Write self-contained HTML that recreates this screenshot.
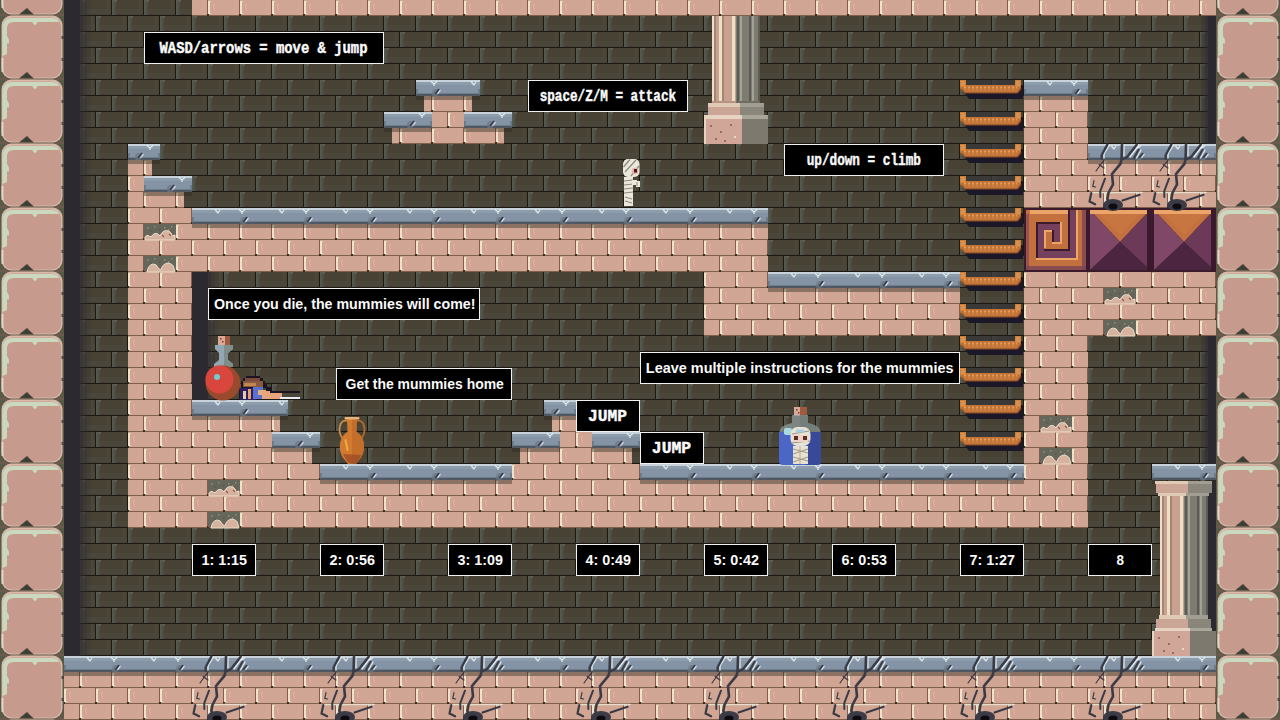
<!DOCTYPE html>
<html><head><meta charset="utf-8"><style>
html,body{margin:0;padding:0;width:1280px;height:720px;overflow:hidden;background:#47402f}
svg{position:absolute;left:0;top:0}
.tb{position:absolute;box-sizing:border-box;background:#000;border:1px solid #f4f4f4;color:#fff;
 font-family:"Liberation Sans",sans-serif;font-weight:bold;font-size:14px;display:flex;align-items:center;justify-content:center;white-space:nowrap;letter-spacing:0.6px}
</style></head><body>
<svg width="1280" height="720" viewBox="0 0 1280 720" shape-rendering="crispEdges"><defs>
<pattern id="bgb" width="32" height="32" patternUnits="userSpaceOnUse">
 <rect width="32" height="32" fill="#1c1813"/>
 <rect x="16" y="0" width="31" height="15" fill="#474234"/><rect x="-16" y="0" width="31" height="15" fill="#474234"/>
 <rect x="-16" y="9" width="31" height="5" fill="#4a463c"/><rect x="16" y="9" width="31" height="5" fill="#4a463c"/>
 <rect x="16" y="0" width="2" height="15" fill="#55584f"/><rect x="18" y="0" width="2" height="15" fill="#4d4d43"/><rect x="16" y="0" width="5" height="2" fill="#585b55"/>
 <rect x="11" y="0" width="2" height="15" fill="#4c4838"/>
 <rect x="0" y="16" width="31" height="15" fill="#474234"/>
 <rect x="0" y="25" width="31" height="5" fill="#4a463c"/>
 <rect x="0" y="16" width="2" height="15" fill="#55584f"/><rect x="2" y="16" width="2" height="15" fill="#4d4d43"/><rect x="0" y="16" width="5" height="2" fill="#585b55"/>
 <rect x="27" y="16" width="2" height="15" fill="#4c4838"/>
</pattern>
<pattern id="pk" width="32" height="32" patternUnits="userSpaceOnUse">
 <rect width="32" height="32" fill="#80604c"/>
 <rect x="16" y="0" width="31" height="15" fill="#d0a593"/><rect x="-16" y="0" width="31" height="15" fill="#d0a593"/>
 <rect x="0" y="16" width="31" height="15" fill="#d0a593"/>
 <rect x="16" y="1" width="1.5" height="13" fill="#efe2cc"/><rect x="17" y="1" width="2" height="1" fill="#e6d6c2"/><rect x="17" y="13" width="2" height="1" fill="#e6d6c2"/>
 <rect x="0" y="17" width="1.5" height="13" fill="#efe2cc"/><rect x="1" y="17" width="2" height="1" fill="#e6d6c2"/><rect x="1" y="29" width="2" height="1" fill="#e6d6c2"/>
 <rect x="15" y="14" width="2" height="2" fill="#3e2a22"/><rect x="31" y="30" width="1" height="2" fill="#3e2a22"/><rect x="0" y="30" width="1" height="2" fill="#3e2a22"/>
 <path d="M23 4 Q20 7 23 10" fill="none" stroke="#ddae9c" stroke-width="1.3"/><path d="M7 20 Q4 23 7 26" fill="none" stroke="#ddae9c" stroke-width="1.3"/>
 <path d="M40 4 Q43 7 40 10" fill="none" stroke="#d6a896" stroke-width="1"/><path d="M10 4 Q13 7 10 10" fill="none" stroke="#d6a896" stroke-width="1"/>
 <path d="M24 20 Q27 23 24 26" fill="none" stroke="#d6a896" stroke-width="1"/>
</pattern>
</defs><rect x="0" y="0" width="1280" height="720" fill="url(#bgb)"/><rect x="64" y="0" width="16" height="656" fill="#2d2930"/><rect x="80" y="0" width="3" height="656" fill="#2d2930" opacity="0.65"/><rect x="83" y="0" width="4" height="656" fill="#2d2930" opacity="0.38"/><rect x="87" y="0" width="4" height="656" fill="#2d2930" opacity="0.15"/><rect x="192" y="272" width="16" height="128" fill="#2d2930"/><rect x="208" y="272" width="3" height="128" fill="#2d2930" opacity="0.65"/><rect x="211" y="272" width="4" height="128" fill="#2d2930" opacity="0.38"/><rect x="215" y="272" width="4" height="128" fill="#2d2930" opacity="0.15"/><rect x="1208" y="16" width="8" height="128" fill="#2d2930"/><rect x="1205" y="16" width="3" height="128" fill="#2d2930" opacity="0.6"/><rect x="1201" y="16" width="4" height="128" fill="#2d2930" opacity="0.3"/><rect x="1208" y="336" width="8" height="320" fill="#2d2930"/><rect x="1205" y="336" width="3" height="320" fill="#2d2930" opacity="0.6"/><rect x="1201" y="336" width="4" height="320" fill="#2d2930" opacity="0.3"/><rect x="192" y="0" width="1024" height="16" fill="url(#pk)"/><rect x="128" y="160" width="24" height="16" fill="url(#pk)"/><rect x="128" y="176" width="16" height="16" fill="url(#pk)"/><rect x="128" y="192" width="56" height="16" fill="url(#pk)"/><rect x="128" y="208" width="64" height="16" fill="url(#pk)"/><rect x="128" y="224" width="640" height="48" fill="url(#pk)"/><rect x="128" y="272" width="64" height="256" fill="url(#pk)"/><rect x="704" y="272" width="256" height="64" fill="url(#pk)"/><rect x="128" y="416" width="152" height="16" fill="url(#pk)"/><rect x="128" y="432" width="144" height="16" fill="url(#pk)"/><rect x="128" y="448" width="184" height="16" fill="url(#pk)"/><rect x="128" y="464" width="192" height="16" fill="url(#pk)"/><rect x="552" y="416" width="24" height="16" fill="url(#pk)"/><rect x="560" y="432" width="32" height="16" fill="url(#pk)"/><rect x="520" y="448" width="112" height="16" fill="url(#pk)"/><rect x="512" y="464" width="128" height="16" fill="url(#pk)"/><rect x="128" y="480" width="960" height="48" fill="url(#pk)"/><rect x="1024" y="96" width="64" height="384" fill="url(#pk)"/><rect x="1088" y="160" width="128" height="48" fill="url(#pk)"/><rect x="1024" y="272" width="192" height="64" fill="url(#pk)"/><rect x="424" y="96" width="48" height="16" fill="url(#pk)"/><rect x="432" y="112" width="32" height="16" fill="url(#pk)"/><rect x="392" y="128" width="112" height="16" fill="url(#pk)"/><rect x="64" y="672" width="1152" height="48" fill="url(#pk)"/><g transform="translate(144,224)" shape-rendering="auto"><rect width="32" height="15" fill="#66675a"/><rect x="3" y="3" width="1.5" height="1.5" fill="#8d8d7c"/><rect x="10" y="2" width="1.5" height="1.5" fill="#8d8d7c"/><rect x="20" y="3" width="1.5" height="1.5" fill="#8d8d7c"/><rect x="27" y="2" width="1.5" height="1.5" fill="#8d8d7c"/><rect x="6" y="6" width="1.5" height="1.5" fill="#55564a"/><rect x="15" y="5" width="1.5" height="1.5" fill="#55564a"/><rect x="24" y="5" width="1.5" height="1.5" fill="#8d8d7c"/><path d="M1 16 L1 13 Q3 10 5 12 L7 13 Q10 8 14 10 L16 12 Q19 5 25 7 Q28 9 28 12 L31 11 L31 16 Z" fill="#d6b2a0" stroke="#ecdcc8" stroke-width="1"/><path d="M18 11 L20 13 M25 10 L27 12" stroke="#9a5a48" stroke-width="1.2"/></g><g transform="translate(144,256)" shape-rendering="auto"><rect width="32" height="15" fill="#66675a"/><rect x="3" y="3" width="1.5" height="1.5" fill="#8d8d7c"/><rect x="10" y="2" width="1.5" height="1.5" fill="#8d8d7c"/><rect x="20" y="3" width="1.5" height="1.5" fill="#8d8d7c"/><rect x="27" y="2" width="1.5" height="1.5" fill="#8d8d7c"/><rect x="6" y="6" width="1.5" height="1.5" fill="#55564a"/><rect x="15" y="5" width="1.5" height="1.5" fill="#55564a"/><rect x="24" y="5" width="1.5" height="1.5" fill="#8d8d7c"/><path d="M3 16 Q4 9 9 8 Q13 8 14 12 L17 14 Q18 8 24 7 Q30 8 30 13 L31 16 Z" fill="#d6b2a0" stroke="#ecdcc8" stroke-width="1"/></g><g transform="translate(208,480)" shape-rendering="auto"><rect width="32" height="15" fill="#66675a"/><rect x="3" y="3" width="1.5" height="1.5" fill="#8d8d7c"/><rect x="10" y="2" width="1.5" height="1.5" fill="#8d8d7c"/><rect x="20" y="3" width="1.5" height="1.5" fill="#8d8d7c"/><rect x="27" y="2" width="1.5" height="1.5" fill="#8d8d7c"/><rect x="6" y="6" width="1.5" height="1.5" fill="#55564a"/><rect x="15" y="5" width="1.5" height="1.5" fill="#55564a"/><rect x="24" y="5" width="1.5" height="1.5" fill="#8d8d7c"/><path d="M1 16 L1 13 Q3 10 5 12 L7 13 Q10 8 14 10 L16 12 Q19 5 25 7 Q28 9 28 12 L31 11 L31 16 Z" fill="#d6b2a0" stroke="#ecdcc8" stroke-width="1"/><path d="M18 11 L20 13 M25 10 L27 12" stroke="#9a5a48" stroke-width="1.2"/></g><g transform="translate(208,512)" shape-rendering="auto"><rect width="32" height="15" fill="#66675a"/><rect x="3" y="3" width="1.5" height="1.5" fill="#8d8d7c"/><rect x="10" y="2" width="1.5" height="1.5" fill="#8d8d7c"/><rect x="20" y="3" width="1.5" height="1.5" fill="#8d8d7c"/><rect x="27" y="2" width="1.5" height="1.5" fill="#8d8d7c"/><rect x="6" y="6" width="1.5" height="1.5" fill="#55564a"/><rect x="15" y="5" width="1.5" height="1.5" fill="#55564a"/><rect x="24" y="5" width="1.5" height="1.5" fill="#8d8d7c"/><path d="M3 16 Q4 9 9 8 Q13 8 14 12 L17 14 Q18 8 24 7 Q30 8 30 13 L31 16 Z" fill="#d6b2a0" stroke="#ecdcc8" stroke-width="1"/></g><g transform="translate(1104,288)" shape-rendering="auto"><rect width="32" height="15" fill="#66675a"/><rect x="3" y="3" width="1.5" height="1.5" fill="#8d8d7c"/><rect x="10" y="2" width="1.5" height="1.5" fill="#8d8d7c"/><rect x="20" y="3" width="1.5" height="1.5" fill="#8d8d7c"/><rect x="27" y="2" width="1.5" height="1.5" fill="#8d8d7c"/><rect x="6" y="6" width="1.5" height="1.5" fill="#55564a"/><rect x="15" y="5" width="1.5" height="1.5" fill="#55564a"/><rect x="24" y="5" width="1.5" height="1.5" fill="#8d8d7c"/><path d="M1 16 L1 13 Q3 10 5 12 L7 13 Q10 8 14 10 L16 12 Q19 5 25 7 Q28 9 28 12 L31 11 L31 16 Z" fill="#d6b2a0" stroke="#ecdcc8" stroke-width="1"/><path d="M18 11 L20 13 M25 10 L27 12" stroke="#9a5a48" stroke-width="1.2"/></g><g transform="translate(1104,320)" shape-rendering="auto"><rect width="32" height="15" fill="#66675a"/><rect x="3" y="3" width="1.5" height="1.5" fill="#8d8d7c"/><rect x="10" y="2" width="1.5" height="1.5" fill="#8d8d7c"/><rect x="20" y="3" width="1.5" height="1.5" fill="#8d8d7c"/><rect x="27" y="2" width="1.5" height="1.5" fill="#8d8d7c"/><rect x="6" y="6" width="1.5" height="1.5" fill="#55564a"/><rect x="15" y="5" width="1.5" height="1.5" fill="#55564a"/><rect x="24" y="5" width="1.5" height="1.5" fill="#8d8d7c"/><path d="M3 16 Q4 9 9 8 Q13 8 14 12 L17 14 Q18 8 24 7 Q30 8 30 13 L31 16 Z" fill="#d6b2a0" stroke="#ecdcc8" stroke-width="1"/></g><g transform="translate(1040,416)" shape-rendering="auto"><rect width="32" height="15" fill="#66675a"/><rect x="3" y="3" width="1.5" height="1.5" fill="#8d8d7c"/><rect x="10" y="2" width="1.5" height="1.5" fill="#8d8d7c"/><rect x="20" y="3" width="1.5" height="1.5" fill="#8d8d7c"/><rect x="27" y="2" width="1.5" height="1.5" fill="#8d8d7c"/><rect x="6" y="6" width="1.5" height="1.5" fill="#55564a"/><rect x="15" y="5" width="1.5" height="1.5" fill="#55564a"/><rect x="24" y="5" width="1.5" height="1.5" fill="#8d8d7c"/><path d="M1 16 L1 13 Q3 10 5 12 L7 13 Q10 8 14 10 L16 12 Q19 5 25 7 Q28 9 28 12 L31 11 L31 16 Z" fill="#d6b2a0" stroke="#ecdcc8" stroke-width="1"/><path d="M18 11 L20 13 M25 10 L27 12" stroke="#9a5a48" stroke-width="1.2"/></g><g transform="translate(1040,448)" shape-rendering="auto"><rect width="32" height="15" fill="#66675a"/><rect x="3" y="3" width="1.5" height="1.5" fill="#8d8d7c"/><rect x="10" y="2" width="1.5" height="1.5" fill="#8d8d7c"/><rect x="20" y="3" width="1.5" height="1.5" fill="#8d8d7c"/><rect x="27" y="2" width="1.5" height="1.5" fill="#8d8d7c"/><rect x="6" y="6" width="1.5" height="1.5" fill="#55564a"/><rect x="15" y="5" width="1.5" height="1.5" fill="#55564a"/><rect x="24" y="5" width="1.5" height="1.5" fill="#8d8d7c"/><path d="M3 16 Q4 9 9 8 Q13 8 14 12 L17 14 Q18 8 24 7 Q30 8 30 13 L31 16 Z" fill="#d6b2a0" stroke="#ecdcc8" stroke-width="1"/></g><g><rect x="128" y="160" width="32" height="4" fill="#2a2a20" opacity="0.42"/><rect x="128" y="144" width="32" height="16" fill="#8494a6"/><rect x="128" y="145" width="32" height="4" fill="#8e9dae"/><rect x="128" y="144" width="32" height="1.5" fill="#c9d2da"/><rect x="128" y="157" width="32" height="1" fill="#6f7b88"/><rect x="128" y="158" width="32" height="2" fill="#4f5863"/><rect x="128" y="153" width="2" height="5" fill="#6f7b88"/><rect x="158" y="153" width="2" height="5" fill="#6f7b88"/></g><path d="M147 145.5 L150 148 L153 145.5 M150 148 L150 150" fill="none" stroke="#e3e9ec" stroke-width="1.3" shape-rendering="auto"/><ellipse cx="138" cy="157" rx="3" ry="4" fill="#6d7786" opacity="0.7" shape-rendering="auto"/><path d="M138 158 L142 153" stroke="#3b4250" stroke-width="2" shape-rendering="auto"/><path d="M140.5 158 L143.5 154" stroke="#e6ecef" stroke-width="1.1" shape-rendering="auto"/><g><rect x="144" y="192" width="48" height="4" fill="#2a2a20" opacity="0.42"/><rect x="144" y="176" width="48" height="16" fill="#8494a6"/><rect x="144" y="177" width="48" height="4" fill="#8e9dae"/><rect x="144" y="176" width="48" height="1.5" fill="#c9d2da"/><rect x="144" y="189" width="48" height="1" fill="#6f7b88"/><rect x="144" y="190" width="48" height="2" fill="#4f5863"/><rect x="144" y="185" width="2" height="5" fill="#6f7b88"/><rect x="190" y="185" width="2" height="5" fill="#6f7b88"/></g><path d="M179 177.5 L182 180 L185 177.5 M182 180 L182 182" fill="none" stroke="#e3e9ec" stroke-width="1.3" shape-rendering="auto"/><ellipse cx="170" cy="189" rx="3" ry="4" fill="#6d7786" opacity="0.7" shape-rendering="auto"/><path d="M170 190 L174 185" stroke="#3b4250" stroke-width="2" shape-rendering="auto"/><path d="M172.5 190 L175.5 186" stroke="#e6ecef" stroke-width="1.1" shape-rendering="auto"/><g><rect x="192" y="224" width="576" height="4" fill="#2a2a20" opacity="0.42"/><rect x="192" y="208" width="576" height="16" fill="#8494a6"/><rect x="192" y="209" width="576" height="4" fill="#8e9dae"/><rect x="192" y="208" width="576" height="1.5" fill="#c9d2da"/><rect x="192" y="221" width="576" height="1" fill="#6f7b88"/><rect x="192" y="222" width="576" height="2" fill="#4f5863"/><rect x="192" y="217" width="2" height="5" fill="#6f7b88"/><rect x="766" y="217" width="2" height="5" fill="#6f7b88"/></g><path d="M215 209.5 L218 213 L220 210" fill="none" stroke="#e3e9ec" stroke-width="1.3" shape-rendering="auto"/><path d="M239 209.5 L242 212 L245 209.5 M242 212 L242 214" fill="none" stroke="#e3e9ec" stroke-width="1.3" shape-rendering="auto"/><ellipse cx="243" cy="221" rx="3" ry="4" fill="#6d7786" opacity="0.7" shape-rendering="auto"/><path d="M243 222 L247 217" stroke="#3b4250" stroke-width="2" shape-rendering="auto"/><path d="M245.5 222 L248.5 218" stroke="#e6ecef" stroke-width="1.1" shape-rendering="auto"/><path d="M279 209.5 L282 213 L284 210" fill="none" stroke="#e3e9ec" stroke-width="1.3" shape-rendering="auto"/><path d="M303 209.5 L306 212 L309 209.5 M306 212 L306 214" fill="none" stroke="#e3e9ec" stroke-width="1.3" shape-rendering="auto"/><ellipse cx="307" cy="221" rx="3" ry="4" fill="#6d7786" opacity="0.7" shape-rendering="auto"/><path d="M307 222 L311 217" stroke="#3b4250" stroke-width="2" shape-rendering="auto"/><path d="M309.5 222 L312.5 218" stroke="#e6ecef" stroke-width="1.1" shape-rendering="auto"/><path d="M343 209.5 L346 213 L348 210" fill="none" stroke="#e3e9ec" stroke-width="1.3" shape-rendering="auto"/><path d="M367 209.5 L370 212 L373 209.5 M370 212 L370 214" fill="none" stroke="#e3e9ec" stroke-width="1.3" shape-rendering="auto"/><ellipse cx="371" cy="221" rx="3" ry="4" fill="#6d7786" opacity="0.7" shape-rendering="auto"/><path d="M371 222 L375 217" stroke="#3b4250" stroke-width="2" shape-rendering="auto"/><path d="M373.5 222 L376.5 218" stroke="#e6ecef" stroke-width="1.1" shape-rendering="auto"/><path d="M407 209.5 L410 213 L412 210" fill="none" stroke="#e3e9ec" stroke-width="1.3" shape-rendering="auto"/><path d="M431 209.5 L434 212 L437 209.5 M434 212 L434 214" fill="none" stroke="#e3e9ec" stroke-width="1.3" shape-rendering="auto"/><ellipse cx="435" cy="221" rx="3" ry="4" fill="#6d7786" opacity="0.7" shape-rendering="auto"/><path d="M435 222 L439 217" stroke="#3b4250" stroke-width="2" shape-rendering="auto"/><path d="M437.5 222 L440.5 218" stroke="#e6ecef" stroke-width="1.1" shape-rendering="auto"/><path d="M471 209.5 L474 213 L476 210" fill="none" stroke="#e3e9ec" stroke-width="1.3" shape-rendering="auto"/><path d="M495 209.5 L498 212 L501 209.5 M498 212 L498 214" fill="none" stroke="#e3e9ec" stroke-width="1.3" shape-rendering="auto"/><ellipse cx="499" cy="221" rx="3" ry="4" fill="#6d7786" opacity="0.7" shape-rendering="auto"/><path d="M499 222 L503 217" stroke="#3b4250" stroke-width="2" shape-rendering="auto"/><path d="M501.5 222 L504.5 218" stroke="#e6ecef" stroke-width="1.1" shape-rendering="auto"/><path d="M535 209.5 L538 213 L540 210" fill="none" stroke="#e3e9ec" stroke-width="1.3" shape-rendering="auto"/><path d="M559 209.5 L562 212 L565 209.5 M562 212 L562 214" fill="none" stroke="#e3e9ec" stroke-width="1.3" shape-rendering="auto"/><ellipse cx="563" cy="221" rx="3" ry="4" fill="#6d7786" opacity="0.7" shape-rendering="auto"/><path d="M563 222 L567 217" stroke="#3b4250" stroke-width="2" shape-rendering="auto"/><path d="M565.5 222 L568.5 218" stroke="#e6ecef" stroke-width="1.1" shape-rendering="auto"/><path d="M599 209.5 L602 213 L604 210" fill="none" stroke="#e3e9ec" stroke-width="1.3" shape-rendering="auto"/><path d="M623 209.5 L626 212 L629 209.5 M626 212 L626 214" fill="none" stroke="#e3e9ec" stroke-width="1.3" shape-rendering="auto"/><ellipse cx="627" cy="221" rx="3" ry="4" fill="#6d7786" opacity="0.7" shape-rendering="auto"/><path d="M627 222 L631 217" stroke="#3b4250" stroke-width="2" shape-rendering="auto"/><path d="M629.5 222 L632.5 218" stroke="#e6ecef" stroke-width="1.1" shape-rendering="auto"/><path d="M663 209.5 L666 213 L668 210" fill="none" stroke="#e3e9ec" stroke-width="1.3" shape-rendering="auto"/><path d="M687 209.5 L690 212 L693 209.5 M690 212 L690 214" fill="none" stroke="#e3e9ec" stroke-width="1.3" shape-rendering="auto"/><ellipse cx="691" cy="221" rx="3" ry="4" fill="#6d7786" opacity="0.7" shape-rendering="auto"/><path d="M691 222 L695 217" stroke="#3b4250" stroke-width="2" shape-rendering="auto"/><path d="M693.5 222 L696.5 218" stroke="#e6ecef" stroke-width="1.1" shape-rendering="auto"/><path d="M727 209.5 L730 213 L732 210" fill="none" stroke="#e3e9ec" stroke-width="1.3" shape-rendering="auto"/><path d="M751 209.5 L754 212 L757 209.5 M754 212 L754 214" fill="none" stroke="#e3e9ec" stroke-width="1.3" shape-rendering="auto"/><ellipse cx="755" cy="221" rx="3" ry="4" fill="#6d7786" opacity="0.7" shape-rendering="auto"/><path d="M755 222 L759 217" stroke="#3b4250" stroke-width="2" shape-rendering="auto"/><path d="M757.5 222 L760.5 218" stroke="#e6ecef" stroke-width="1.1" shape-rendering="auto"/><g><rect x="768" y="288" width="192" height="4" fill="#2a2a20" opacity="0.42"/><rect x="768" y="272" width="192" height="16" fill="#8494a6"/><rect x="768" y="273" width="192" height="4" fill="#8e9dae"/><rect x="768" y="272" width="192" height="1.5" fill="#c9d2da"/><rect x="768" y="285" width="192" height="1" fill="#6f7b88"/><rect x="768" y="286" width="192" height="2" fill="#4f5863"/><rect x="768" y="281" width="2" height="5" fill="#6f7b88"/><rect x="958" y="281" width="2" height="5" fill="#6f7b88"/></g><path d="M791 273.5 L794 277 L796 274" fill="none" stroke="#e3e9ec" stroke-width="1.3" shape-rendering="auto"/><path d="M815 273.5 L818 276 L821 273.5 M818 276 L818 278" fill="none" stroke="#e3e9ec" stroke-width="1.3" shape-rendering="auto"/><ellipse cx="819" cy="285" rx="3" ry="4" fill="#6d7786" opacity="0.7" shape-rendering="auto"/><path d="M819 286 L823 281" stroke="#3b4250" stroke-width="2" shape-rendering="auto"/><path d="M821.5 286 L824.5 282" stroke="#e6ecef" stroke-width="1.1" shape-rendering="auto"/><path d="M855 273.5 L858 277 L860 274" fill="none" stroke="#e3e9ec" stroke-width="1.3" shape-rendering="auto"/><path d="M879 273.5 L882 276 L885 273.5 M882 276 L882 278" fill="none" stroke="#e3e9ec" stroke-width="1.3" shape-rendering="auto"/><ellipse cx="883" cy="285" rx="3" ry="4" fill="#6d7786" opacity="0.7" shape-rendering="auto"/><path d="M883 286 L887 281" stroke="#3b4250" stroke-width="2" shape-rendering="auto"/><path d="M885.5 286 L888.5 282" stroke="#e6ecef" stroke-width="1.1" shape-rendering="auto"/><path d="M919 273.5 L922 277 L924 274" fill="none" stroke="#e3e9ec" stroke-width="1.3" shape-rendering="auto"/><path d="M943 273.5 L946 276 L949 273.5 M946 276 L946 278" fill="none" stroke="#e3e9ec" stroke-width="1.3" shape-rendering="auto"/><ellipse cx="947" cy="285" rx="3" ry="4" fill="#6d7786" opacity="0.7" shape-rendering="auto"/><path d="M947 286 L951 281" stroke="#3b4250" stroke-width="2" shape-rendering="auto"/><path d="M949.5 286 L952.5 282" stroke="#e6ecef" stroke-width="1.1" shape-rendering="auto"/><g><rect x="192" y="416" width="96" height="4" fill="#2a2a20" opacity="0.42"/><rect x="192" y="400" width="96" height="16" fill="#8494a6"/><rect x="192" y="401" width="96" height="4" fill="#8e9dae"/><rect x="192" y="400" width="96" height="1.5" fill="#c9d2da"/><rect x="192" y="413" width="96" height="1" fill="#6f7b88"/><rect x="192" y="414" width="96" height="2" fill="#4f5863"/><rect x="192" y="409" width="2" height="5" fill="#6f7b88"/><rect x="286" y="409" width="2" height="5" fill="#6f7b88"/></g><path d="M215 401.5 L218 405 L220 402" fill="none" stroke="#e3e9ec" stroke-width="1.3" shape-rendering="auto"/><path d="M239 401.5 L242 404 L245 401.5 M242 404 L242 406" fill="none" stroke="#e3e9ec" stroke-width="1.3" shape-rendering="auto"/><ellipse cx="243" cy="413" rx="3" ry="4" fill="#6d7786" opacity="0.7" shape-rendering="auto"/><path d="M243 414 L247 409" stroke="#3b4250" stroke-width="2" shape-rendering="auto"/><path d="M245.5 414 L248.5 410" stroke="#e6ecef" stroke-width="1.1" shape-rendering="auto"/><path d="M279 401.5 L282 405 L284 402" fill="none" stroke="#e3e9ec" stroke-width="1.3" shape-rendering="auto"/><g><rect x="272" y="448" width="48" height="4" fill="#2a2a20" opacity="0.42"/><rect x="272" y="432" width="48" height="16" fill="#8494a6"/><rect x="272" y="433" width="48" height="4" fill="#8e9dae"/><rect x="272" y="432" width="48" height="1.5" fill="#c9d2da"/><rect x="272" y="445" width="48" height="1" fill="#6f7b88"/><rect x="272" y="446" width="48" height="2" fill="#4f5863"/><rect x="272" y="441" width="2" height="5" fill="#6f7b88"/><rect x="318" y="441" width="2" height="5" fill="#6f7b88"/></g><path d="M307 433.5 L310 436 L313 433.5 M310 436 L310 438" fill="none" stroke="#e3e9ec" stroke-width="1.3" shape-rendering="auto"/><ellipse cx="298" cy="445" rx="3" ry="4" fill="#6d7786" opacity="0.7" shape-rendering="auto"/><path d="M298 446 L302 441" stroke="#3b4250" stroke-width="2" shape-rendering="auto"/><path d="M300.5 446 L303.5 442" stroke="#e6ecef" stroke-width="1.1" shape-rendering="auto"/><g><rect x="320" y="480" width="192" height="4" fill="#2a2a20" opacity="0.42"/><rect x="320" y="464" width="192" height="16" fill="#8494a6"/><rect x="320" y="465" width="192" height="4" fill="#8e9dae"/><rect x="320" y="464" width="192" height="1.5" fill="#c9d2da"/><rect x="320" y="477" width="192" height="1" fill="#6f7b88"/><rect x="320" y="478" width="192" height="2" fill="#4f5863"/><rect x="320" y="473" width="2" height="5" fill="#6f7b88"/><rect x="510" y="473" width="2" height="5" fill="#6f7b88"/></g><path d="M343 465.5 L346 469 L348 466" fill="none" stroke="#e3e9ec" stroke-width="1.3" shape-rendering="auto"/><path d="M367 465.5 L370 468 L373 465.5 M370 468 L370 470" fill="none" stroke="#e3e9ec" stroke-width="1.3" shape-rendering="auto"/><ellipse cx="371" cy="477" rx="3" ry="4" fill="#6d7786" opacity="0.7" shape-rendering="auto"/><path d="M371 478 L375 473" stroke="#3b4250" stroke-width="2" shape-rendering="auto"/><path d="M373.5 478 L376.5 474" stroke="#e6ecef" stroke-width="1.1" shape-rendering="auto"/><path d="M407 465.5 L410 469 L412 466" fill="none" stroke="#e3e9ec" stroke-width="1.3" shape-rendering="auto"/><path d="M431 465.5 L434 468 L437 465.5 M434 468 L434 470" fill="none" stroke="#e3e9ec" stroke-width="1.3" shape-rendering="auto"/><ellipse cx="435" cy="477" rx="3" ry="4" fill="#6d7786" opacity="0.7" shape-rendering="auto"/><path d="M435 478 L439 473" stroke="#3b4250" stroke-width="2" shape-rendering="auto"/><path d="M437.5 478 L440.5 474" stroke="#e6ecef" stroke-width="1.1" shape-rendering="auto"/><path d="M471 465.5 L474 469 L476 466" fill="none" stroke="#e3e9ec" stroke-width="1.3" shape-rendering="auto"/><path d="M495 465.5 L498 468 L501 465.5 M498 468 L498 470" fill="none" stroke="#e3e9ec" stroke-width="1.3" shape-rendering="auto"/><ellipse cx="499" cy="477" rx="3" ry="4" fill="#6d7786" opacity="0.7" shape-rendering="auto"/><path d="M499 478 L503 473" stroke="#3b4250" stroke-width="2" shape-rendering="auto"/><path d="M501.5 478 L504.5 474" stroke="#e6ecef" stroke-width="1.1" shape-rendering="auto"/><g><rect x="544" y="416" width="32" height="4" fill="#2a2a20" opacity="0.42"/><rect x="544" y="400" width="32" height="16" fill="#8494a6"/><rect x="544" y="401" width="32" height="4" fill="#8e9dae"/><rect x="544" y="400" width="32" height="1.5" fill="#c9d2da"/><rect x="544" y="413" width="32" height="1" fill="#6f7b88"/><rect x="544" y="414" width="32" height="2" fill="#4f5863"/><rect x="544" y="409" width="2" height="5" fill="#6f7b88"/><rect x="574" y="409" width="2" height="5" fill="#6f7b88"/></g><path d="M563 401.5 L566 404 L569 401.5 M566 404 L566 406" fill="none" stroke="#e3e9ec" stroke-width="1.3" shape-rendering="auto"/><ellipse cx="554" cy="413" rx="3" ry="4" fill="#6d7786" opacity="0.7" shape-rendering="auto"/><path d="M554 414 L558 409" stroke="#3b4250" stroke-width="2" shape-rendering="auto"/><path d="M556.5 414 L559.5 410" stroke="#e6ecef" stroke-width="1.1" shape-rendering="auto"/><g><rect x="512" y="448" width="48" height="4" fill="#2a2a20" opacity="0.42"/><rect x="512" y="432" width="48" height="16" fill="#8494a6"/><rect x="512" y="433" width="48" height="4" fill="#8e9dae"/><rect x="512" y="432" width="48" height="1.5" fill="#c9d2da"/><rect x="512" y="445" width="48" height="1" fill="#6f7b88"/><rect x="512" y="446" width="48" height="2" fill="#4f5863"/><rect x="512" y="441" width="2" height="5" fill="#6f7b88"/><rect x="558" y="441" width="2" height="5" fill="#6f7b88"/></g><path d="M547 433.5 L550 436 L553 433.5 M550 436 L550 438" fill="none" stroke="#e3e9ec" stroke-width="1.3" shape-rendering="auto"/><ellipse cx="538" cy="445" rx="3" ry="4" fill="#6d7786" opacity="0.7" shape-rendering="auto"/><path d="M538 446 L542 441" stroke="#3b4250" stroke-width="2" shape-rendering="auto"/><path d="M540.5 446 L543.5 442" stroke="#e6ecef" stroke-width="1.1" shape-rendering="auto"/><g><rect x="592" y="448" width="48" height="4" fill="#2a2a20" opacity="0.42"/><rect x="592" y="432" width="48" height="16" fill="#8494a6"/><rect x="592" y="433" width="48" height="4" fill="#8e9dae"/><rect x="592" y="432" width="48" height="1.5" fill="#c9d2da"/><rect x="592" y="445" width="48" height="1" fill="#6f7b88"/><rect x="592" y="446" width="48" height="2" fill="#4f5863"/><rect x="592" y="441" width="2" height="5" fill="#6f7b88"/><rect x="638" y="441" width="2" height="5" fill="#6f7b88"/></g><path d="M627 433.5 L630 436 L633 433.5 M630 436 L630 438" fill="none" stroke="#e3e9ec" stroke-width="1.3" shape-rendering="auto"/><ellipse cx="618" cy="445" rx="3" ry="4" fill="#6d7786" opacity="0.7" shape-rendering="auto"/><path d="M618 446 L622 441" stroke="#3b4250" stroke-width="2" shape-rendering="auto"/><path d="M620.5 446 L623.5 442" stroke="#e6ecef" stroke-width="1.1" shape-rendering="auto"/><g><rect x="640" y="480" width="384" height="4" fill="#2a2a20" opacity="0.42"/><rect x="640" y="464" width="384" height="16" fill="#8494a6"/><rect x="640" y="465" width="384" height="4" fill="#8e9dae"/><rect x="640" y="464" width="384" height="1.5" fill="#c9d2da"/><rect x="640" y="477" width="384" height="1" fill="#6f7b88"/><rect x="640" y="478" width="384" height="2" fill="#4f5863"/><rect x="640" y="473" width="2" height="5" fill="#6f7b88"/><rect x="1022" y="473" width="2" height="5" fill="#6f7b88"/></g><path d="M663 465.5 L666 469 L668 466" fill="none" stroke="#e3e9ec" stroke-width="1.3" shape-rendering="auto"/><path d="M687 465.5 L690 468 L693 465.5 M690 468 L690 470" fill="none" stroke="#e3e9ec" stroke-width="1.3" shape-rendering="auto"/><ellipse cx="691" cy="477" rx="3" ry="4" fill="#6d7786" opacity="0.7" shape-rendering="auto"/><path d="M691 478 L695 473" stroke="#3b4250" stroke-width="2" shape-rendering="auto"/><path d="M693.5 478 L696.5 474" stroke="#e6ecef" stroke-width="1.1" shape-rendering="auto"/><path d="M727 465.5 L730 469 L732 466" fill="none" stroke="#e3e9ec" stroke-width="1.3" shape-rendering="auto"/><path d="M751 465.5 L754 468 L757 465.5 M754 468 L754 470" fill="none" stroke="#e3e9ec" stroke-width="1.3" shape-rendering="auto"/><ellipse cx="755" cy="477" rx="3" ry="4" fill="#6d7786" opacity="0.7" shape-rendering="auto"/><path d="M755 478 L759 473" stroke="#3b4250" stroke-width="2" shape-rendering="auto"/><path d="M757.5 478 L760.5 474" stroke="#e6ecef" stroke-width="1.1" shape-rendering="auto"/><path d="M791 465.5 L794 469 L796 466" fill="none" stroke="#e3e9ec" stroke-width="1.3" shape-rendering="auto"/><path d="M815 465.5 L818 468 L821 465.5 M818 468 L818 470" fill="none" stroke="#e3e9ec" stroke-width="1.3" shape-rendering="auto"/><ellipse cx="819" cy="477" rx="3" ry="4" fill="#6d7786" opacity="0.7" shape-rendering="auto"/><path d="M819 478 L823 473" stroke="#3b4250" stroke-width="2" shape-rendering="auto"/><path d="M821.5 478 L824.5 474" stroke="#e6ecef" stroke-width="1.1" shape-rendering="auto"/><path d="M855 465.5 L858 469 L860 466" fill="none" stroke="#e3e9ec" stroke-width="1.3" shape-rendering="auto"/><path d="M879 465.5 L882 468 L885 465.5 M882 468 L882 470" fill="none" stroke="#e3e9ec" stroke-width="1.3" shape-rendering="auto"/><ellipse cx="883" cy="477" rx="3" ry="4" fill="#6d7786" opacity="0.7" shape-rendering="auto"/><path d="M883 478 L887 473" stroke="#3b4250" stroke-width="2" shape-rendering="auto"/><path d="M885.5 478 L888.5 474" stroke="#e6ecef" stroke-width="1.1" shape-rendering="auto"/><path d="M919 465.5 L922 469 L924 466" fill="none" stroke="#e3e9ec" stroke-width="1.3" shape-rendering="auto"/><path d="M943 465.5 L946 468 L949 465.5 M946 468 L946 470" fill="none" stroke="#e3e9ec" stroke-width="1.3" shape-rendering="auto"/><ellipse cx="947" cy="477" rx="3" ry="4" fill="#6d7786" opacity="0.7" shape-rendering="auto"/><path d="M947 478 L951 473" stroke="#3b4250" stroke-width="2" shape-rendering="auto"/><path d="M949.5 478 L952.5 474" stroke="#e6ecef" stroke-width="1.1" shape-rendering="auto"/><path d="M983 465.5 L986 469 L988 466" fill="none" stroke="#e3e9ec" stroke-width="1.3" shape-rendering="auto"/><path d="M1007 465.5 L1010 468 L1013 465.5 M1010 468 L1010 470" fill="none" stroke="#e3e9ec" stroke-width="1.3" shape-rendering="auto"/><ellipse cx="1011" cy="477" rx="3" ry="4" fill="#6d7786" opacity="0.7" shape-rendering="auto"/><path d="M1011 478 L1015 473" stroke="#3b4250" stroke-width="2" shape-rendering="auto"/><path d="M1013.5 478 L1016.5 474" stroke="#e6ecef" stroke-width="1.1" shape-rendering="auto"/><g><rect x="1024" y="96" width="64" height="4" fill="#2a2a20" opacity="0.42"/><rect x="1024" y="80" width="64" height="16" fill="#8494a6"/><rect x="1024" y="81" width="64" height="4" fill="#8e9dae"/><rect x="1024" y="80" width="64" height="1.5" fill="#c9d2da"/><rect x="1024" y="93" width="64" height="1" fill="#6f7b88"/><rect x="1024" y="94" width="64" height="2" fill="#4f5863"/><rect x="1024" y="89" width="2" height="5" fill="#6f7b88"/><rect x="1086" y="89" width="2" height="5" fill="#6f7b88"/></g><path d="M1047 81.5 L1050 85 L1052 82" fill="none" stroke="#e3e9ec" stroke-width="1.3" shape-rendering="auto"/><path d="M1071 81.5 L1074 84 L1077 81.5 M1074 84 L1074 86" fill="none" stroke="#e3e9ec" stroke-width="1.3" shape-rendering="auto"/><ellipse cx="1075" cy="93" rx="3" ry="4" fill="#6d7786" opacity="0.7" shape-rendering="auto"/><path d="M1075 94 L1079 89" stroke="#3b4250" stroke-width="2" shape-rendering="auto"/><path d="M1077.5 94 L1080.5 90" stroke="#e6ecef" stroke-width="1.1" shape-rendering="auto"/><g><rect x="1088" y="160" width="128" height="4" fill="#2a2a20" opacity="0.42"/><rect x="1088" y="144" width="128" height="16" fill="#8494a6"/><rect x="1088" y="145" width="128" height="4" fill="#8e9dae"/><rect x="1088" y="144" width="128" height="1.5" fill="#c9d2da"/><rect x="1088" y="157" width="128" height="1" fill="#6f7b88"/><rect x="1088" y="158" width="128" height="2" fill="#4f5863"/><rect x="1088" y="153" width="2" height="5" fill="#6f7b88"/><rect x="1214" y="153" width="2" height="5" fill="#6f7b88"/></g><path d="M1111 145.5 L1114 149 L1116 146" fill="none" stroke="#e3e9ec" stroke-width="1.3" shape-rendering="auto"/><path d="M1135 145.5 L1138 148 L1141 145.5 M1138 148 L1138 150" fill="none" stroke="#e3e9ec" stroke-width="1.3" shape-rendering="auto"/><ellipse cx="1139" cy="157" rx="3" ry="4" fill="#6d7786" opacity="0.7" shape-rendering="auto"/><path d="M1139 158 L1143 153" stroke="#3b4250" stroke-width="2" shape-rendering="auto"/><path d="M1141.5 158 L1144.5 154" stroke="#e6ecef" stroke-width="1.1" shape-rendering="auto"/><path d="M1175 145.5 L1178 149 L1180 146" fill="none" stroke="#e3e9ec" stroke-width="1.3" shape-rendering="auto"/><path d="M1199 145.5 L1202 148 L1205 145.5 M1202 148 L1202 150" fill="none" stroke="#e3e9ec" stroke-width="1.3" shape-rendering="auto"/><ellipse cx="1203" cy="157" rx="3" ry="4" fill="#6d7786" opacity="0.7" shape-rendering="auto"/><path d="M1203 158 L1207 153" stroke="#3b4250" stroke-width="2" shape-rendering="auto"/><path d="M1205.5 158 L1208.5 154" stroke="#e6ecef" stroke-width="1.1" shape-rendering="auto"/><g><rect x="1152" y="480" width="64" height="4" fill="#2a2a20" opacity="0.42"/><rect x="1152" y="464" width="64" height="16" fill="#8494a6"/><rect x="1152" y="465" width="64" height="4" fill="#8e9dae"/><rect x="1152" y="464" width="64" height="1.5" fill="#c9d2da"/><rect x="1152" y="477" width="64" height="1" fill="#6f7b88"/><rect x="1152" y="478" width="64" height="2" fill="#4f5863"/><rect x="1152" y="473" width="2" height="5" fill="#6f7b88"/><rect x="1214" y="473" width="2" height="5" fill="#6f7b88"/></g><path d="M1175 465.5 L1178 469 L1180 466" fill="none" stroke="#e3e9ec" stroke-width="1.3" shape-rendering="auto"/><path d="M1199 465.5 L1202 468 L1205 465.5 M1202 468 L1202 470" fill="none" stroke="#e3e9ec" stroke-width="1.3" shape-rendering="auto"/><ellipse cx="1203" cy="477" rx="3" ry="4" fill="#6d7786" opacity="0.7" shape-rendering="auto"/><path d="M1203 478 L1207 473" stroke="#3b4250" stroke-width="2" shape-rendering="auto"/><path d="M1205.5 478 L1208.5 474" stroke="#e6ecef" stroke-width="1.1" shape-rendering="auto"/><g><rect x="416" y="96" width="64" height="4" fill="#2a2a20" opacity="0.42"/><rect x="416" y="80" width="64" height="16" fill="#8494a6"/><rect x="416" y="81" width="64" height="4" fill="#8e9dae"/><rect x="416" y="80" width="64" height="1.5" fill="#c9d2da"/><rect x="416" y="93" width="64" height="1" fill="#6f7b88"/><rect x="416" y="94" width="64" height="2" fill="#4f5863"/><rect x="416" y="89" width="2" height="5" fill="#6f7b88"/><rect x="478" y="89" width="2" height="5" fill="#6f7b88"/></g><path d="M431 81.5 L434 84 L437 81.5 M434 84 L434 86" fill="none" stroke="#e3e9ec" stroke-width="1.3" shape-rendering="auto"/><ellipse cx="435" cy="93" rx="3" ry="4" fill="#6d7786" opacity="0.7" shape-rendering="auto"/><path d="M435 94 L439 89" stroke="#3b4250" stroke-width="2" shape-rendering="auto"/><path d="M437.5 94 L440.5 90" stroke="#e6ecef" stroke-width="1.1" shape-rendering="auto"/><path d="M471 81.5 L474 85 L476 82" fill="none" stroke="#e3e9ec" stroke-width="1.3" shape-rendering="auto"/><g><rect x="384" y="128" width="48" height="4" fill="#2a2a20" opacity="0.42"/><rect x="384" y="112" width="48" height="16" fill="#8494a6"/><rect x="384" y="113" width="48" height="4" fill="#8e9dae"/><rect x="384" y="112" width="48" height="1.5" fill="#c9d2da"/><rect x="384" y="125" width="48" height="1" fill="#6f7b88"/><rect x="384" y="126" width="48" height="2" fill="#4f5863"/><rect x="384" y="121" width="2" height="5" fill="#6f7b88"/><rect x="430" y="121" width="2" height="5" fill="#6f7b88"/></g><path d="M419 113.5 L422 116 L425 113.5 M422 116 L422 118" fill="none" stroke="#e3e9ec" stroke-width="1.3" shape-rendering="auto"/><ellipse cx="410" cy="125" rx="3" ry="4" fill="#6d7786" opacity="0.7" shape-rendering="auto"/><path d="M410 126 L414 121" stroke="#3b4250" stroke-width="2" shape-rendering="auto"/><path d="M412.5 126 L415.5 122" stroke="#e6ecef" stroke-width="1.1" shape-rendering="auto"/><g><rect x="464" y="128" width="48" height="4" fill="#2a2a20" opacity="0.42"/><rect x="464" y="112" width="48" height="16" fill="#8494a6"/><rect x="464" y="113" width="48" height="4" fill="#8e9dae"/><rect x="464" y="112" width="48" height="1.5" fill="#c9d2da"/><rect x="464" y="125" width="48" height="1" fill="#6f7b88"/><rect x="464" y="126" width="48" height="2" fill="#4f5863"/><rect x="464" y="121" width="2" height="5" fill="#6f7b88"/><rect x="510" y="121" width="2" height="5" fill="#6f7b88"/></g><path d="M499 113.5 L502 116 L505 113.5 M502 116 L502 118" fill="none" stroke="#e3e9ec" stroke-width="1.3" shape-rendering="auto"/><ellipse cx="490" cy="125" rx="3" ry="4" fill="#6d7786" opacity="0.7" shape-rendering="auto"/><path d="M490 126 L494 121" stroke="#3b4250" stroke-width="2" shape-rendering="auto"/><path d="M492.5 126 L495.5 122" stroke="#e6ecef" stroke-width="1.1" shape-rendering="auto"/><g><rect x="64" y="672" width="1152" height="4" fill="#2a2a20" opacity="0.42"/><rect x="64" y="656" width="1152" height="16" fill="#8494a6"/><rect x="64" y="657" width="1152" height="4" fill="#8e9dae"/><rect x="64" y="656" width="1152" height="1.5" fill="#c9d2da"/><rect x="64" y="669" width="1152" height="1" fill="#6f7b88"/><rect x="64" y="670" width="1152" height="2" fill="#4f5863"/><rect x="64" y="665" width="2" height="5" fill="#6f7b88"/><rect x="1214" y="665" width="2" height="5" fill="#6f7b88"/></g><path d="M87 657.5 L90 661 L92 658" fill="none" stroke="#e3e9ec" stroke-width="1.3" shape-rendering="auto"/><path d="M111 657.5 L114 660 L117 657.5 M114 660 L114 662" fill="none" stroke="#e3e9ec" stroke-width="1.3" shape-rendering="auto"/><ellipse cx="115" cy="669" rx="3" ry="4" fill="#6d7786" opacity="0.7" shape-rendering="auto"/><path d="M115 670 L119 665" stroke="#3b4250" stroke-width="2" shape-rendering="auto"/><path d="M117.5 670 L120.5 666" stroke="#e6ecef" stroke-width="1.1" shape-rendering="auto"/><path d="M151 657.5 L154 661 L156 658" fill="none" stroke="#e3e9ec" stroke-width="1.3" shape-rendering="auto"/><path d="M175 657.5 L178 660 L181 657.5 M178 660 L178 662" fill="none" stroke="#e3e9ec" stroke-width="1.3" shape-rendering="auto"/><ellipse cx="179" cy="669" rx="3" ry="4" fill="#6d7786" opacity="0.7" shape-rendering="auto"/><path d="M179 670 L183 665" stroke="#3b4250" stroke-width="2" shape-rendering="auto"/><path d="M181.5 670 L184.5 666" stroke="#e6ecef" stroke-width="1.1" shape-rendering="auto"/><path d="M215 657.5 L218 661 L220 658" fill="none" stroke="#e3e9ec" stroke-width="1.3" shape-rendering="auto"/><path d="M239 657.5 L242 660 L245 657.5 M242 660 L242 662" fill="none" stroke="#e3e9ec" stroke-width="1.3" shape-rendering="auto"/><ellipse cx="243" cy="669" rx="3" ry="4" fill="#6d7786" opacity="0.7" shape-rendering="auto"/><path d="M243 670 L247 665" stroke="#3b4250" stroke-width="2" shape-rendering="auto"/><path d="M245.5 670 L248.5 666" stroke="#e6ecef" stroke-width="1.1" shape-rendering="auto"/><path d="M279 657.5 L282 661 L284 658" fill="none" stroke="#e3e9ec" stroke-width="1.3" shape-rendering="auto"/><path d="M303 657.5 L306 660 L309 657.5 M306 660 L306 662" fill="none" stroke="#e3e9ec" stroke-width="1.3" shape-rendering="auto"/><ellipse cx="307" cy="669" rx="3" ry="4" fill="#6d7786" opacity="0.7" shape-rendering="auto"/><path d="M307 670 L311 665" stroke="#3b4250" stroke-width="2" shape-rendering="auto"/><path d="M309.5 670 L312.5 666" stroke="#e6ecef" stroke-width="1.1" shape-rendering="auto"/><path d="M343 657.5 L346 661 L348 658" fill="none" stroke="#e3e9ec" stroke-width="1.3" shape-rendering="auto"/><path d="M367 657.5 L370 660 L373 657.5 M370 660 L370 662" fill="none" stroke="#e3e9ec" stroke-width="1.3" shape-rendering="auto"/><ellipse cx="371" cy="669" rx="3" ry="4" fill="#6d7786" opacity="0.7" shape-rendering="auto"/><path d="M371 670 L375 665" stroke="#3b4250" stroke-width="2" shape-rendering="auto"/><path d="M373.5 670 L376.5 666" stroke="#e6ecef" stroke-width="1.1" shape-rendering="auto"/><path d="M407 657.5 L410 661 L412 658" fill="none" stroke="#e3e9ec" stroke-width="1.3" shape-rendering="auto"/><path d="M431 657.5 L434 660 L437 657.5 M434 660 L434 662" fill="none" stroke="#e3e9ec" stroke-width="1.3" shape-rendering="auto"/><ellipse cx="435" cy="669" rx="3" ry="4" fill="#6d7786" opacity="0.7" shape-rendering="auto"/><path d="M435 670 L439 665" stroke="#3b4250" stroke-width="2" shape-rendering="auto"/><path d="M437.5 670 L440.5 666" stroke="#e6ecef" stroke-width="1.1" shape-rendering="auto"/><path d="M471 657.5 L474 661 L476 658" fill="none" stroke="#e3e9ec" stroke-width="1.3" shape-rendering="auto"/><path d="M495 657.5 L498 660 L501 657.5 M498 660 L498 662" fill="none" stroke="#e3e9ec" stroke-width="1.3" shape-rendering="auto"/><ellipse cx="499" cy="669" rx="3" ry="4" fill="#6d7786" opacity="0.7" shape-rendering="auto"/><path d="M499 670 L503 665" stroke="#3b4250" stroke-width="2" shape-rendering="auto"/><path d="M501.5 670 L504.5 666" stroke="#e6ecef" stroke-width="1.1" shape-rendering="auto"/><path d="M535 657.5 L538 661 L540 658" fill="none" stroke="#e3e9ec" stroke-width="1.3" shape-rendering="auto"/><path d="M559 657.5 L562 660 L565 657.5 M562 660 L562 662" fill="none" stroke="#e3e9ec" stroke-width="1.3" shape-rendering="auto"/><ellipse cx="563" cy="669" rx="3" ry="4" fill="#6d7786" opacity="0.7" shape-rendering="auto"/><path d="M563 670 L567 665" stroke="#3b4250" stroke-width="2" shape-rendering="auto"/><path d="M565.5 670 L568.5 666" stroke="#e6ecef" stroke-width="1.1" shape-rendering="auto"/><path d="M599 657.5 L602 661 L604 658" fill="none" stroke="#e3e9ec" stroke-width="1.3" shape-rendering="auto"/><path d="M623 657.5 L626 660 L629 657.5 M626 660 L626 662" fill="none" stroke="#e3e9ec" stroke-width="1.3" shape-rendering="auto"/><ellipse cx="627" cy="669" rx="3" ry="4" fill="#6d7786" opacity="0.7" shape-rendering="auto"/><path d="M627 670 L631 665" stroke="#3b4250" stroke-width="2" shape-rendering="auto"/><path d="M629.5 670 L632.5 666" stroke="#e6ecef" stroke-width="1.1" shape-rendering="auto"/><path d="M663 657.5 L666 661 L668 658" fill="none" stroke="#e3e9ec" stroke-width="1.3" shape-rendering="auto"/><path d="M687 657.5 L690 660 L693 657.5 M690 660 L690 662" fill="none" stroke="#e3e9ec" stroke-width="1.3" shape-rendering="auto"/><ellipse cx="691" cy="669" rx="3" ry="4" fill="#6d7786" opacity="0.7" shape-rendering="auto"/><path d="M691 670 L695 665" stroke="#3b4250" stroke-width="2" shape-rendering="auto"/><path d="M693.5 670 L696.5 666" stroke="#e6ecef" stroke-width="1.1" shape-rendering="auto"/><path d="M727 657.5 L730 661 L732 658" fill="none" stroke="#e3e9ec" stroke-width="1.3" shape-rendering="auto"/><path d="M751 657.5 L754 660 L757 657.5 M754 660 L754 662" fill="none" stroke="#e3e9ec" stroke-width="1.3" shape-rendering="auto"/><ellipse cx="755" cy="669" rx="3" ry="4" fill="#6d7786" opacity="0.7" shape-rendering="auto"/><path d="M755 670 L759 665" stroke="#3b4250" stroke-width="2" shape-rendering="auto"/><path d="M757.5 670 L760.5 666" stroke="#e6ecef" stroke-width="1.1" shape-rendering="auto"/><path d="M791 657.5 L794 661 L796 658" fill="none" stroke="#e3e9ec" stroke-width="1.3" shape-rendering="auto"/><path d="M815 657.5 L818 660 L821 657.5 M818 660 L818 662" fill="none" stroke="#e3e9ec" stroke-width="1.3" shape-rendering="auto"/><ellipse cx="819" cy="669" rx="3" ry="4" fill="#6d7786" opacity="0.7" shape-rendering="auto"/><path d="M819 670 L823 665" stroke="#3b4250" stroke-width="2" shape-rendering="auto"/><path d="M821.5 670 L824.5 666" stroke="#e6ecef" stroke-width="1.1" shape-rendering="auto"/><path d="M855 657.5 L858 661 L860 658" fill="none" stroke="#e3e9ec" stroke-width="1.3" shape-rendering="auto"/><path d="M879 657.5 L882 660 L885 657.5 M882 660 L882 662" fill="none" stroke="#e3e9ec" stroke-width="1.3" shape-rendering="auto"/><ellipse cx="883" cy="669" rx="3" ry="4" fill="#6d7786" opacity="0.7" shape-rendering="auto"/><path d="M883 670 L887 665" stroke="#3b4250" stroke-width="2" shape-rendering="auto"/><path d="M885.5 670 L888.5 666" stroke="#e6ecef" stroke-width="1.1" shape-rendering="auto"/><path d="M919 657.5 L922 661 L924 658" fill="none" stroke="#e3e9ec" stroke-width="1.3" shape-rendering="auto"/><path d="M943 657.5 L946 660 L949 657.5 M946 660 L946 662" fill="none" stroke="#e3e9ec" stroke-width="1.3" shape-rendering="auto"/><ellipse cx="947" cy="669" rx="3" ry="4" fill="#6d7786" opacity="0.7" shape-rendering="auto"/><path d="M947 670 L951 665" stroke="#3b4250" stroke-width="2" shape-rendering="auto"/><path d="M949.5 670 L952.5 666" stroke="#e6ecef" stroke-width="1.1" shape-rendering="auto"/><path d="M983 657.5 L986 661 L988 658" fill="none" stroke="#e3e9ec" stroke-width="1.3" shape-rendering="auto"/><path d="M1007 657.5 L1010 660 L1013 657.5 M1010 660 L1010 662" fill="none" stroke="#e3e9ec" stroke-width="1.3" shape-rendering="auto"/><ellipse cx="1011" cy="669" rx="3" ry="4" fill="#6d7786" opacity="0.7" shape-rendering="auto"/><path d="M1011 670 L1015 665" stroke="#3b4250" stroke-width="2" shape-rendering="auto"/><path d="M1013.5 670 L1016.5 666" stroke="#e6ecef" stroke-width="1.1" shape-rendering="auto"/><path d="M1047 657.5 L1050 661 L1052 658" fill="none" stroke="#e3e9ec" stroke-width="1.3" shape-rendering="auto"/><path d="M1071 657.5 L1074 660 L1077 657.5 M1074 660 L1074 662" fill="none" stroke="#e3e9ec" stroke-width="1.3" shape-rendering="auto"/><ellipse cx="1075" cy="669" rx="3" ry="4" fill="#6d7786" opacity="0.7" shape-rendering="auto"/><path d="M1075 670 L1079 665" stroke="#3b4250" stroke-width="2" shape-rendering="auto"/><path d="M1077.5 670 L1080.5 666" stroke="#e6ecef" stroke-width="1.1" shape-rendering="auto"/><path d="M1111 657.5 L1114 661 L1116 658" fill="none" stroke="#e3e9ec" stroke-width="1.3" shape-rendering="auto"/><path d="M1135 657.5 L1138 660 L1141 657.5 M1138 660 L1138 662" fill="none" stroke="#e3e9ec" stroke-width="1.3" shape-rendering="auto"/><ellipse cx="1139" cy="669" rx="3" ry="4" fill="#6d7786" opacity="0.7" shape-rendering="auto"/><path d="M1139 670 L1143 665" stroke="#3b4250" stroke-width="2" shape-rendering="auto"/><path d="M1141.5 670 L1144.5 666" stroke="#e6ecef" stroke-width="1.1" shape-rendering="auto"/><path d="M1175 657.5 L1178 661 L1180 658" fill="none" stroke="#e3e9ec" stroke-width="1.3" shape-rendering="auto"/><path d="M1199 657.5 L1202 660 L1205 657.5 M1202 660 L1202 662" fill="none" stroke="#e3e9ec" stroke-width="1.3" shape-rendering="auto"/><ellipse cx="1203" cy="669" rx="3" ry="4" fill="#6d7786" opacity="0.7" shape-rendering="auto"/><path d="M1203 670 L1207 665" stroke="#3b4250" stroke-width="2" shape-rendering="auto"/><path d="M1205.5 670 L1208.5 666" stroke="#e6ecef" stroke-width="1.1" shape-rendering="auto"/><rect x="0" y="0" width="64" height="720" fill="#585a47"/><g transform="translate(0,-48)" shape-rendering="auto"><rect x="0" y="61" width="64" height="3" fill="#6a5a4a"/><rect x="1.5" y="-0.5" width="61" height="63" rx="10" ry="10" fill="#d8b8a8"/><rect x="3" y="1.5" width="58" height="60" rx="9" ry="9" fill="#c69a8c"/><path d="M2.5 14 Q2.5 2 12 2 L52 2 Q58 2 59 6 L38 6 L35 9.5 L32 6 L14 6 Q7 6 7 12 L7 20 Q10 24 8.5 28 L7 27 L7 38 L2.5 40 Z" fill="#cbd8c0"/><rect x="1.5" y="42" width="2" height="14" fill="#e3d4c4"/><path d="M19 62.5 L27 56 L31 60 L34 62.5 Z" fill="#3f4034"/><rect x="61.5" y="20" width="2.5" height="3" fill="#4a4b3c"/><rect x="61.5" y="42" width="2.5" height="3" fill="#4a4b3c"/></g><g transform="translate(0,16)" shape-rendering="auto"><rect x="0" y="61" width="64" height="3" fill="#6a5a4a"/><rect x="1.5" y="-0.5" width="61" height="63" rx="10" ry="10" fill="#d8b8a8"/><rect x="3" y="1.5" width="58" height="60" rx="9" ry="9" fill="#c69a8c"/><path d="M2.5 14 Q2.5 2 12 2 L52 2 Q58 2 59 6 L38 6 L35 9.5 L32 6 L14 6 Q7 6 7 12 L7 20 Q10 24 8.5 28 L7 27 L7 38 L2.5 40 Z" fill="#cbd8c0"/><rect x="1.5" y="42" width="2" height="14" fill="#e3d4c4"/><path d="M19 62.5 L27 56 L31 60 L34 62.5 Z" fill="#3f4034"/><rect x="61.5" y="20" width="2.5" height="3" fill="#4a4b3c"/><rect x="61.5" y="42" width="2.5" height="3" fill="#4a4b3c"/></g><g transform="translate(0,80)" shape-rendering="auto"><rect x="0" y="61" width="64" height="3" fill="#6a5a4a"/><rect x="1.5" y="-0.5" width="61" height="63" rx="10" ry="10" fill="#d8b8a8"/><rect x="3" y="1.5" width="58" height="60" rx="9" ry="9" fill="#c69a8c"/><path d="M2.5 14 Q2.5 2 12 2 L52 2 Q58 2 59 6 L38 6 L35 9.5 L32 6 L14 6 Q7 6 7 12 L7 20 Q10 24 8.5 28 L7 27 L7 38 L2.5 40 Z" fill="#cbd8c0"/><rect x="1.5" y="42" width="2" height="14" fill="#e3d4c4"/><path d="M19 62.5 L27 56 L31 60 L34 62.5 Z" fill="#3f4034"/><rect x="61.5" y="20" width="2.5" height="3" fill="#4a4b3c"/><rect x="61.5" y="42" width="2.5" height="3" fill="#4a4b3c"/></g><g transform="translate(0,144)" shape-rendering="auto"><rect x="0" y="61" width="64" height="3" fill="#6a5a4a"/><rect x="1.5" y="-0.5" width="61" height="63" rx="10" ry="10" fill="#d8b8a8"/><rect x="3" y="1.5" width="58" height="60" rx="9" ry="9" fill="#c69a8c"/><path d="M2.5 14 Q2.5 2 12 2 L52 2 Q58 2 59 6 L38 6 L35 9.5 L32 6 L14 6 Q7 6 7 12 L7 20 Q10 24 8.5 28 L7 27 L7 38 L2.5 40 Z" fill="#cbd8c0"/><rect x="1.5" y="42" width="2" height="14" fill="#e3d4c4"/><path d="M19 62.5 L27 56 L31 60 L34 62.5 Z" fill="#3f4034"/><rect x="61.5" y="20" width="2.5" height="3" fill="#4a4b3c"/><rect x="61.5" y="42" width="2.5" height="3" fill="#4a4b3c"/></g><g transform="translate(0,208)" shape-rendering="auto"><rect x="0" y="61" width="64" height="3" fill="#6a5a4a"/><rect x="1.5" y="-0.5" width="61" height="63" rx="10" ry="10" fill="#d8b8a8"/><rect x="3" y="1.5" width="58" height="60" rx="9" ry="9" fill="#c69a8c"/><path d="M2.5 14 Q2.5 2 12 2 L52 2 Q58 2 59 6 L38 6 L35 9.5 L32 6 L14 6 Q7 6 7 12 L7 20 Q10 24 8.5 28 L7 27 L7 38 L2.5 40 Z" fill="#cbd8c0"/><rect x="1.5" y="42" width="2" height="14" fill="#e3d4c4"/><path d="M19 62.5 L27 56 L31 60 L34 62.5 Z" fill="#3f4034"/><rect x="61.5" y="20" width="2.5" height="3" fill="#4a4b3c"/><rect x="61.5" y="42" width="2.5" height="3" fill="#4a4b3c"/></g><g transform="translate(0,272)" shape-rendering="auto"><rect x="0" y="61" width="64" height="3" fill="#6a5a4a"/><rect x="1.5" y="-0.5" width="61" height="63" rx="10" ry="10" fill="#d8b8a8"/><rect x="3" y="1.5" width="58" height="60" rx="9" ry="9" fill="#c69a8c"/><path d="M2.5 14 Q2.5 2 12 2 L52 2 Q58 2 59 6 L38 6 L35 9.5 L32 6 L14 6 Q7 6 7 12 L7 20 Q10 24 8.5 28 L7 27 L7 38 L2.5 40 Z" fill="#cbd8c0"/><rect x="1.5" y="42" width="2" height="14" fill="#e3d4c4"/><path d="M19 62.5 L27 56 L31 60 L34 62.5 Z" fill="#3f4034"/><rect x="61.5" y="20" width="2.5" height="3" fill="#4a4b3c"/><rect x="61.5" y="42" width="2.5" height="3" fill="#4a4b3c"/></g><g transform="translate(0,336)" shape-rendering="auto"><rect x="0" y="61" width="64" height="3" fill="#6a5a4a"/><rect x="1.5" y="-0.5" width="61" height="63" rx="10" ry="10" fill="#d8b8a8"/><rect x="3" y="1.5" width="58" height="60" rx="9" ry="9" fill="#c69a8c"/><path d="M2.5 14 Q2.5 2 12 2 L52 2 Q58 2 59 6 L38 6 L35 9.5 L32 6 L14 6 Q7 6 7 12 L7 20 Q10 24 8.5 28 L7 27 L7 38 L2.5 40 Z" fill="#cbd8c0"/><rect x="1.5" y="42" width="2" height="14" fill="#e3d4c4"/><path d="M19 62.5 L27 56 L31 60 L34 62.5 Z" fill="#3f4034"/><rect x="61.5" y="20" width="2.5" height="3" fill="#4a4b3c"/><rect x="61.5" y="42" width="2.5" height="3" fill="#4a4b3c"/></g><g transform="translate(0,400)" shape-rendering="auto"><rect x="0" y="61" width="64" height="3" fill="#6a5a4a"/><rect x="1.5" y="-0.5" width="61" height="63" rx="10" ry="10" fill="#d8b8a8"/><rect x="3" y="1.5" width="58" height="60" rx="9" ry="9" fill="#c69a8c"/><path d="M2.5 14 Q2.5 2 12 2 L52 2 Q58 2 59 6 L38 6 L35 9.5 L32 6 L14 6 Q7 6 7 12 L7 20 Q10 24 8.5 28 L7 27 L7 38 L2.5 40 Z" fill="#cbd8c0"/><rect x="1.5" y="42" width="2" height="14" fill="#e3d4c4"/><path d="M19 62.5 L27 56 L31 60 L34 62.5 Z" fill="#3f4034"/><rect x="61.5" y="20" width="2.5" height="3" fill="#4a4b3c"/><rect x="61.5" y="42" width="2.5" height="3" fill="#4a4b3c"/></g><g transform="translate(0,464)" shape-rendering="auto"><rect x="0" y="61" width="64" height="3" fill="#6a5a4a"/><rect x="1.5" y="-0.5" width="61" height="63" rx="10" ry="10" fill="#d8b8a8"/><rect x="3" y="1.5" width="58" height="60" rx="9" ry="9" fill="#c69a8c"/><path d="M2.5 14 Q2.5 2 12 2 L52 2 Q58 2 59 6 L38 6 L35 9.5 L32 6 L14 6 Q7 6 7 12 L7 20 Q10 24 8.5 28 L7 27 L7 38 L2.5 40 Z" fill="#cbd8c0"/><rect x="1.5" y="42" width="2" height="14" fill="#e3d4c4"/><path d="M19 62.5 L27 56 L31 60 L34 62.5 Z" fill="#3f4034"/><rect x="61.5" y="20" width="2.5" height="3" fill="#4a4b3c"/><rect x="61.5" y="42" width="2.5" height="3" fill="#4a4b3c"/></g><g transform="translate(0,528)" shape-rendering="auto"><rect x="0" y="61" width="64" height="3" fill="#6a5a4a"/><rect x="1.5" y="-0.5" width="61" height="63" rx="10" ry="10" fill="#d8b8a8"/><rect x="3" y="1.5" width="58" height="60" rx="9" ry="9" fill="#c69a8c"/><path d="M2.5 14 Q2.5 2 12 2 L52 2 Q58 2 59 6 L38 6 L35 9.5 L32 6 L14 6 Q7 6 7 12 L7 20 Q10 24 8.5 28 L7 27 L7 38 L2.5 40 Z" fill="#cbd8c0"/><rect x="1.5" y="42" width="2" height="14" fill="#e3d4c4"/><path d="M19 62.5 L27 56 L31 60 L34 62.5 Z" fill="#3f4034"/><rect x="61.5" y="20" width="2.5" height="3" fill="#4a4b3c"/><rect x="61.5" y="42" width="2.5" height="3" fill="#4a4b3c"/></g><g transform="translate(0,592)" shape-rendering="auto"><rect x="0" y="61" width="64" height="3" fill="#6a5a4a"/><rect x="1.5" y="-0.5" width="61" height="63" rx="10" ry="10" fill="#d8b8a8"/><rect x="3" y="1.5" width="58" height="60" rx="9" ry="9" fill="#c69a8c"/><path d="M2.5 14 Q2.5 2 12 2 L52 2 Q58 2 59 6 L38 6 L35 9.5 L32 6 L14 6 Q7 6 7 12 L7 20 Q10 24 8.5 28 L7 27 L7 38 L2.5 40 Z" fill="#cbd8c0"/><rect x="1.5" y="42" width="2" height="14" fill="#e3d4c4"/><path d="M19 62.5 L27 56 L31 60 L34 62.5 Z" fill="#3f4034"/><rect x="61.5" y="20" width="2.5" height="3" fill="#4a4b3c"/><rect x="61.5" y="42" width="2.5" height="3" fill="#4a4b3c"/></g><g transform="translate(0,656)" shape-rendering="auto"><rect x="0" y="61" width="64" height="3" fill="#6a5a4a"/><rect x="1.5" y="-0.5" width="61" height="63" rx="10" ry="10" fill="#d8b8a8"/><rect x="3" y="1.5" width="58" height="60" rx="9" ry="9" fill="#c69a8c"/><path d="M2.5 14 Q2.5 2 12 2 L52 2 Q58 2 59 6 L38 6 L35 9.5 L32 6 L14 6 Q7 6 7 12 L7 20 Q10 24 8.5 28 L7 27 L7 38 L2.5 40 Z" fill="#cbd8c0"/><rect x="1.5" y="42" width="2" height="14" fill="#e3d4c4"/><path d="M19 62.5 L27 56 L31 60 L34 62.5 Z" fill="#3f4034"/><rect x="61.5" y="20" width="2.5" height="3" fill="#4a4b3c"/><rect x="61.5" y="42" width="2.5" height="3" fill="#4a4b3c"/></g><g transform="translate(0,720)" shape-rendering="auto"><rect x="0" y="61" width="64" height="3" fill="#6a5a4a"/><rect x="1.5" y="-0.5" width="61" height="63" rx="10" ry="10" fill="#d8b8a8"/><rect x="3" y="1.5" width="58" height="60" rx="9" ry="9" fill="#c69a8c"/><path d="M2.5 14 Q2.5 2 12 2 L52 2 Q58 2 59 6 L38 6 L35 9.5 L32 6 L14 6 Q7 6 7 12 L7 20 Q10 24 8.5 28 L7 27 L7 38 L2.5 40 Z" fill="#cbd8c0"/><rect x="1.5" y="42" width="2" height="14" fill="#e3d4c4"/><path d="M19 62.5 L27 56 L31 60 L34 62.5 Z" fill="#3f4034"/><rect x="61.5" y="20" width="2.5" height="3" fill="#4a4b3c"/><rect x="61.5" y="42" width="2.5" height="3" fill="#4a4b3c"/></g><rect x="1216" y="0" width="64" height="720" fill="#585a47"/><g transform="translate(1216,-48)" shape-rendering="auto"><rect x="0" y="61" width="64" height="3" fill="#6a5a4a"/><rect x="1.5" y="-0.5" width="61" height="63" rx="10" ry="10" fill="#d8b8a8"/><rect x="3" y="1.5" width="58" height="60" rx="9" ry="9" fill="#c69a8c"/><path d="M2.5 14 Q2.5 2 12 2 L52 2 Q58 2 59 6 L38 6 L35 9.5 L32 6 L14 6 Q7 6 7 12 L7 20 Q10 24 8.5 28 L7 27 L7 38 L2.5 40 Z" fill="#cbd8c0"/><rect x="1.5" y="42" width="2" height="14" fill="#e3d4c4"/><path d="M19 62.5 L27 56 L31 60 L34 62.5 Z" fill="#3f4034"/><rect x="61.5" y="20" width="2.5" height="3" fill="#4a4b3c"/><rect x="61.5" y="42" width="2.5" height="3" fill="#4a4b3c"/></g><g transform="translate(1216,16)" shape-rendering="auto"><rect x="0" y="61" width="64" height="3" fill="#6a5a4a"/><rect x="1.5" y="-0.5" width="61" height="63" rx="10" ry="10" fill="#d8b8a8"/><rect x="3" y="1.5" width="58" height="60" rx="9" ry="9" fill="#c69a8c"/><path d="M2.5 14 Q2.5 2 12 2 L52 2 Q58 2 59 6 L38 6 L35 9.5 L32 6 L14 6 Q7 6 7 12 L7 20 Q10 24 8.5 28 L7 27 L7 38 L2.5 40 Z" fill="#cbd8c0"/><rect x="1.5" y="42" width="2" height="14" fill="#e3d4c4"/><path d="M19 62.5 L27 56 L31 60 L34 62.5 Z" fill="#3f4034"/><rect x="61.5" y="20" width="2.5" height="3" fill="#4a4b3c"/><rect x="61.5" y="42" width="2.5" height="3" fill="#4a4b3c"/></g><g transform="translate(1216,80)" shape-rendering="auto"><rect x="0" y="61" width="64" height="3" fill="#6a5a4a"/><rect x="1.5" y="-0.5" width="61" height="63" rx="10" ry="10" fill="#d8b8a8"/><rect x="3" y="1.5" width="58" height="60" rx="9" ry="9" fill="#c69a8c"/><path d="M2.5 14 Q2.5 2 12 2 L52 2 Q58 2 59 6 L38 6 L35 9.5 L32 6 L14 6 Q7 6 7 12 L7 20 Q10 24 8.5 28 L7 27 L7 38 L2.5 40 Z" fill="#cbd8c0"/><rect x="1.5" y="42" width="2" height="14" fill="#e3d4c4"/><path d="M19 62.5 L27 56 L31 60 L34 62.5 Z" fill="#3f4034"/><rect x="61.5" y="20" width="2.5" height="3" fill="#4a4b3c"/><rect x="61.5" y="42" width="2.5" height="3" fill="#4a4b3c"/></g><g transform="translate(1216,144)" shape-rendering="auto"><rect x="0" y="61" width="64" height="3" fill="#6a5a4a"/><rect x="1.5" y="-0.5" width="61" height="63" rx="10" ry="10" fill="#d8b8a8"/><rect x="3" y="1.5" width="58" height="60" rx="9" ry="9" fill="#c69a8c"/><path d="M2.5 14 Q2.5 2 12 2 L52 2 Q58 2 59 6 L38 6 L35 9.5 L32 6 L14 6 Q7 6 7 12 L7 20 Q10 24 8.5 28 L7 27 L7 38 L2.5 40 Z" fill="#cbd8c0"/><rect x="1.5" y="42" width="2" height="14" fill="#e3d4c4"/><path d="M19 62.5 L27 56 L31 60 L34 62.5 Z" fill="#3f4034"/><rect x="61.5" y="20" width="2.5" height="3" fill="#4a4b3c"/><rect x="61.5" y="42" width="2.5" height="3" fill="#4a4b3c"/></g><g transform="translate(1216,208)" shape-rendering="auto"><rect x="0" y="61" width="64" height="3" fill="#6a5a4a"/><rect x="1.5" y="-0.5" width="61" height="63" rx="10" ry="10" fill="#d8b8a8"/><rect x="3" y="1.5" width="58" height="60" rx="9" ry="9" fill="#c69a8c"/><path d="M2.5 14 Q2.5 2 12 2 L52 2 Q58 2 59 6 L38 6 L35 9.5 L32 6 L14 6 Q7 6 7 12 L7 20 Q10 24 8.5 28 L7 27 L7 38 L2.5 40 Z" fill="#cbd8c0"/><rect x="1.5" y="42" width="2" height="14" fill="#e3d4c4"/><path d="M19 62.5 L27 56 L31 60 L34 62.5 Z" fill="#3f4034"/><rect x="61.5" y="20" width="2.5" height="3" fill="#4a4b3c"/><rect x="61.5" y="42" width="2.5" height="3" fill="#4a4b3c"/></g><g transform="translate(1216,272)" shape-rendering="auto"><rect x="0" y="61" width="64" height="3" fill="#6a5a4a"/><rect x="1.5" y="-0.5" width="61" height="63" rx="10" ry="10" fill="#d8b8a8"/><rect x="3" y="1.5" width="58" height="60" rx="9" ry="9" fill="#c69a8c"/><path d="M2.5 14 Q2.5 2 12 2 L52 2 Q58 2 59 6 L38 6 L35 9.5 L32 6 L14 6 Q7 6 7 12 L7 20 Q10 24 8.5 28 L7 27 L7 38 L2.5 40 Z" fill="#cbd8c0"/><rect x="1.5" y="42" width="2" height="14" fill="#e3d4c4"/><path d="M19 62.5 L27 56 L31 60 L34 62.5 Z" fill="#3f4034"/><rect x="61.5" y="20" width="2.5" height="3" fill="#4a4b3c"/><rect x="61.5" y="42" width="2.5" height="3" fill="#4a4b3c"/></g><g transform="translate(1216,336)" shape-rendering="auto"><rect x="0" y="61" width="64" height="3" fill="#6a5a4a"/><rect x="1.5" y="-0.5" width="61" height="63" rx="10" ry="10" fill="#d8b8a8"/><rect x="3" y="1.5" width="58" height="60" rx="9" ry="9" fill="#c69a8c"/><path d="M2.5 14 Q2.5 2 12 2 L52 2 Q58 2 59 6 L38 6 L35 9.5 L32 6 L14 6 Q7 6 7 12 L7 20 Q10 24 8.5 28 L7 27 L7 38 L2.5 40 Z" fill="#cbd8c0"/><rect x="1.5" y="42" width="2" height="14" fill="#e3d4c4"/><path d="M19 62.5 L27 56 L31 60 L34 62.5 Z" fill="#3f4034"/><rect x="61.5" y="20" width="2.5" height="3" fill="#4a4b3c"/><rect x="61.5" y="42" width="2.5" height="3" fill="#4a4b3c"/></g><g transform="translate(1216,400)" shape-rendering="auto"><rect x="0" y="61" width="64" height="3" fill="#6a5a4a"/><rect x="1.5" y="-0.5" width="61" height="63" rx="10" ry="10" fill="#d8b8a8"/><rect x="3" y="1.5" width="58" height="60" rx="9" ry="9" fill="#c69a8c"/><path d="M2.5 14 Q2.5 2 12 2 L52 2 Q58 2 59 6 L38 6 L35 9.5 L32 6 L14 6 Q7 6 7 12 L7 20 Q10 24 8.5 28 L7 27 L7 38 L2.5 40 Z" fill="#cbd8c0"/><rect x="1.5" y="42" width="2" height="14" fill="#e3d4c4"/><path d="M19 62.5 L27 56 L31 60 L34 62.5 Z" fill="#3f4034"/><rect x="61.5" y="20" width="2.5" height="3" fill="#4a4b3c"/><rect x="61.5" y="42" width="2.5" height="3" fill="#4a4b3c"/></g><g transform="translate(1216,464)" shape-rendering="auto"><rect x="0" y="61" width="64" height="3" fill="#6a5a4a"/><rect x="1.5" y="-0.5" width="61" height="63" rx="10" ry="10" fill="#d8b8a8"/><rect x="3" y="1.5" width="58" height="60" rx="9" ry="9" fill="#c69a8c"/><path d="M2.5 14 Q2.5 2 12 2 L52 2 Q58 2 59 6 L38 6 L35 9.5 L32 6 L14 6 Q7 6 7 12 L7 20 Q10 24 8.5 28 L7 27 L7 38 L2.5 40 Z" fill="#cbd8c0"/><rect x="1.5" y="42" width="2" height="14" fill="#e3d4c4"/><path d="M19 62.5 L27 56 L31 60 L34 62.5 Z" fill="#3f4034"/><rect x="61.5" y="20" width="2.5" height="3" fill="#4a4b3c"/><rect x="61.5" y="42" width="2.5" height="3" fill="#4a4b3c"/></g><g transform="translate(1216,528)" shape-rendering="auto"><rect x="0" y="61" width="64" height="3" fill="#6a5a4a"/><rect x="1.5" y="-0.5" width="61" height="63" rx="10" ry="10" fill="#d8b8a8"/><rect x="3" y="1.5" width="58" height="60" rx="9" ry="9" fill="#c69a8c"/><path d="M2.5 14 Q2.5 2 12 2 L52 2 Q58 2 59 6 L38 6 L35 9.5 L32 6 L14 6 Q7 6 7 12 L7 20 Q10 24 8.5 28 L7 27 L7 38 L2.5 40 Z" fill="#cbd8c0"/><rect x="1.5" y="42" width="2" height="14" fill="#e3d4c4"/><path d="M19 62.5 L27 56 L31 60 L34 62.5 Z" fill="#3f4034"/><rect x="61.5" y="20" width="2.5" height="3" fill="#4a4b3c"/><rect x="61.5" y="42" width="2.5" height="3" fill="#4a4b3c"/></g><g transform="translate(1216,592)" shape-rendering="auto"><rect x="0" y="61" width="64" height="3" fill="#6a5a4a"/><rect x="1.5" y="-0.5" width="61" height="63" rx="10" ry="10" fill="#d8b8a8"/><rect x="3" y="1.5" width="58" height="60" rx="9" ry="9" fill="#c69a8c"/><path d="M2.5 14 Q2.5 2 12 2 L52 2 Q58 2 59 6 L38 6 L35 9.5 L32 6 L14 6 Q7 6 7 12 L7 20 Q10 24 8.5 28 L7 27 L7 38 L2.5 40 Z" fill="#cbd8c0"/><rect x="1.5" y="42" width="2" height="14" fill="#e3d4c4"/><path d="M19 62.5 L27 56 L31 60 L34 62.5 Z" fill="#3f4034"/><rect x="61.5" y="20" width="2.5" height="3" fill="#4a4b3c"/><rect x="61.5" y="42" width="2.5" height="3" fill="#4a4b3c"/></g><g transform="translate(1216,656)" shape-rendering="auto"><rect x="0" y="61" width="64" height="3" fill="#6a5a4a"/><rect x="1.5" y="-0.5" width="61" height="63" rx="10" ry="10" fill="#d8b8a8"/><rect x="3" y="1.5" width="58" height="60" rx="9" ry="9" fill="#c69a8c"/><path d="M2.5 14 Q2.5 2 12 2 L52 2 Q58 2 59 6 L38 6 L35 9.5 L32 6 L14 6 Q7 6 7 12 L7 20 Q10 24 8.5 28 L7 27 L7 38 L2.5 40 Z" fill="#cbd8c0"/><rect x="1.5" y="42" width="2" height="14" fill="#e3d4c4"/><path d="M19 62.5 L27 56 L31 60 L34 62.5 Z" fill="#3f4034"/><rect x="61.5" y="20" width="2.5" height="3" fill="#4a4b3c"/><rect x="61.5" y="42" width="2.5" height="3" fill="#4a4b3c"/></g><g transform="translate(1216,720)" shape-rendering="auto"><rect x="0" y="61" width="64" height="3" fill="#6a5a4a"/><rect x="1.5" y="-0.5" width="61" height="63" rx="10" ry="10" fill="#d8b8a8"/><rect x="3" y="1.5" width="58" height="60" rx="9" ry="9" fill="#c69a8c"/><path d="M2.5 14 Q2.5 2 12 2 L52 2 Q58 2 59 6 L38 6 L35 9.5 L32 6 L14 6 Q7 6 7 12 L7 20 Q10 24 8.5 28 L7 27 L7 38 L2.5 40 Z" fill="#cbd8c0"/><rect x="1.5" y="42" width="2" height="14" fill="#e3d4c4"/><path d="M19 62.5 L27 56 L31 60 L34 62.5 Z" fill="#3f4034"/><rect x="61.5" y="20" width="2.5" height="3" fill="#4a4b3c"/><rect x="61.5" y="42" width="2.5" height="3" fill="#4a4b3c"/></g><g transform="translate(712,0)"><rect x="0" y="16" width="24" height="85" fill="#c9a190"/><rect x="24" y="16" width="24" height="85" fill="#7e7b71"/><rect x="0" y="16" width="2" height="85" fill="#ecdfc8"/><rect x="2" y="16" width="2" height="85" fill="#a88474"/><rect x="7" y="16" width="3" height="85" fill="#ecdfc8"/><rect x="10" y="16" width="2" height="85" fill="#a88474"/><rect x="20" y="16" width="3" height="85" fill="#ecdfc8"/><rect x="25" y="16" width="2" height="85" fill="#5c5a54"/><rect x="28" y="16" width="2" height="85" fill="#a3a297"/><rect x="37" y="16" width="2" height="85" fill="#5c5a54"/><rect x="40" y="16" width="2" height="85" fill="#a3a297"/><rect x="46" y="16" width="2" height="85" fill="#5c5a54"/></g><rect x="712" y="101" width="24" height="2" fill="#b89484"/><rect x="736" y="101" width="24" height="2" fill="#6f6c64"/><rect x="708" y="103" width="32" height="4" fill="#e0cab6"/><rect x="740" y="103" width="24" height="4" fill="#a09d92"/><rect x="708" y="107" width="32" height="8" fill="#cba595"/><rect x="740" y="107" width="24" height="8" fill="#8a867b"/><rect x="704" y="115" width="38" height="4" fill="#e6d3c1"/><rect x="742" y="115" width="26" height="4" fill="#a8a599"/><rect x="704" y="119" width="38" height="25" fill="#cfa698"/><rect x="742" y="119" width="26" height="25" fill="#7d796f"/><g transform="translate(704,119)"><rect x="6" y="6" width="1.5" height="1.5" fill="#a0685e"/><rect x="16" y="12" width="1.5" height="1.5" fill="#a0685e"/><rect x="26" y="5" width="1.5" height="1.5" fill="#a0685e"/><rect x="11" y="19" width="1.5" height="1.5" fill="#a0685e"/><rect x="30" y="17" width="1.5" height="1.5" fill="#e8d8c8"/><rect x="20" y="21" width="1.5" height="1.5" fill="#a0685e"/><rect x="0" y="0" width="1.5" height="25" fill="#e6d5c4"/></g><rect x="1155" y="481" width="33" height="3" fill="#e0cab6"/><rect x="1188" y="481" width="24" height="3" fill="#a09d92"/><rect x="1156" y="484" width="32" height="9" fill="#cba595"/><rect x="1188" y="484" width="24" height="9" fill="#8a867b"/><rect x="1158" y="493" width="28" height="3" fill="#e0cab6"/><rect x="1186" y="493" width="23" height="3" fill="#a09d92"/><g transform="translate(1160,0)"><rect x="0" y="496" width="24" height="119" fill="#c9a190"/><rect x="24" y="496" width="24" height="119" fill="#7e7b71"/><rect x="0" y="496" width="2" height="119" fill="#ecdfc8"/><rect x="2" y="496" width="2" height="119" fill="#a88474"/><rect x="7" y="496" width="3" height="119" fill="#ecdfc8"/><rect x="10" y="496" width="2" height="119" fill="#a88474"/><rect x="20" y="496" width="3" height="119" fill="#ecdfc8"/><rect x="25" y="496" width="2" height="119" fill="#5c5a54"/><rect x="28" y="496" width="2" height="119" fill="#a3a297"/><rect x="37" y="496" width="2" height="119" fill="#5c5a54"/><rect x="40" y="496" width="2" height="119" fill="#a3a297"/><rect x="46" y="496" width="2" height="119" fill="#5c5a54"/></g><rect x="1159" y="615" width="27" height="4" fill="#e0cab6"/><rect x="1186" y="615" width="22" height="4" fill="#a09d92"/><rect x="1156" y="619" width="32" height="9" fill="#cba595"/><rect x="1188" y="619" width="23" height="9" fill="#8a867b"/><rect x="1155" y="628" width="35" height="3" fill="#e6d3c1"/><rect x="1190" y="628" width="22" height="3" fill="#a8a599"/><rect x="1152" y="631" width="38" height="25" fill="#cfa698"/><rect x="1190" y="631" width="26" height="25" fill="#7d796f"/><g transform="translate(1152,631)"><rect x="6" y="6" width="1.5" height="1.5" fill="#a0685e"/><rect x="16" y="12" width="1.5" height="1.5" fill="#a0685e"/><rect x="26" y="5" width="1.5" height="1.5" fill="#a0685e"/><rect x="11" y="19" width="1.5" height="1.5" fill="#a0685e"/><rect x="30" y="17" width="1.5" height="1.5" fill="#e8d8c8"/><rect x="20" y="21" width="1.5" height="1.5" fill="#a0685e"/><rect x="0" y="0" width="1.5" height="25" fill="#e6d5c4"/></g><g transform="translate(960,80)" shape-rendering="auto"><path d="M4 12 L9 19 L63 19 L63 5 L59 5 L59 13 Z" fill="#1c1828"/><rect x="6" y="0" width="49" height="6" fill="#35373a" opacity="0.75"/><path d="M0 0 L6 0 L6 5 L55 5 L55 0 L61 0 L61 7 Q61 10 57 13 L5 13 Q0 10 0 7 Z" fill="#c27536"/><rect x="0.5" y="0.5" width="5" height="6" fill="#d9904f"/><rect x="55.5" y="0.5" width="5" height="6" fill="#d9904f"/><path d="M4 7.5 L57 7.5" stroke="#e39a58" stroke-width="2" stroke-dasharray="2 2"/><path d="M5 10 L56 10" stroke="#cf8444" stroke-width="1.5" stroke-dasharray="2 2" stroke-dashoffset="1"/><path d="M2 9 Q3 12 5 13 L57 13 Q60 11 61 8" fill="none" stroke="#8a4a26" stroke-width="1.2"/></g><g transform="translate(960,112)" shape-rendering="auto"><path d="M4 12 L9 19 L63 19 L63 5 L59 5 L59 13 Z" fill="#1c1828"/><rect x="6" y="0" width="49" height="6" fill="#35373a" opacity="0.75"/><path d="M0 0 L6 0 L6 5 L55 5 L55 0 L61 0 L61 7 Q61 10 57 13 L5 13 Q0 10 0 7 Z" fill="#c27536"/><rect x="0.5" y="0.5" width="5" height="6" fill="#d9904f"/><rect x="55.5" y="0.5" width="5" height="6" fill="#d9904f"/><path d="M4 7.5 L57 7.5" stroke="#e39a58" stroke-width="2" stroke-dasharray="2 2"/><path d="M5 10 L56 10" stroke="#cf8444" stroke-width="1.5" stroke-dasharray="2 2" stroke-dashoffset="1"/><path d="M2 9 Q3 12 5 13 L57 13 Q60 11 61 8" fill="none" stroke="#8a4a26" stroke-width="1.2"/></g><g transform="translate(960,144)" shape-rendering="auto"><path d="M4 12 L9 19 L63 19 L63 5 L59 5 L59 13 Z" fill="#1c1828"/><rect x="6" y="0" width="49" height="6" fill="#35373a" opacity="0.75"/><path d="M0 0 L6 0 L6 5 L55 5 L55 0 L61 0 L61 7 Q61 10 57 13 L5 13 Q0 10 0 7 Z" fill="#c27536"/><rect x="0.5" y="0.5" width="5" height="6" fill="#d9904f"/><rect x="55.5" y="0.5" width="5" height="6" fill="#d9904f"/><path d="M4 7.5 L57 7.5" stroke="#e39a58" stroke-width="2" stroke-dasharray="2 2"/><path d="M5 10 L56 10" stroke="#cf8444" stroke-width="1.5" stroke-dasharray="2 2" stroke-dashoffset="1"/><path d="M2 9 Q3 12 5 13 L57 13 Q60 11 61 8" fill="none" stroke="#8a4a26" stroke-width="1.2"/></g><g transform="translate(960,176)" shape-rendering="auto"><path d="M4 12 L9 19 L63 19 L63 5 L59 5 L59 13 Z" fill="#1c1828"/><rect x="6" y="0" width="49" height="6" fill="#35373a" opacity="0.75"/><path d="M0 0 L6 0 L6 5 L55 5 L55 0 L61 0 L61 7 Q61 10 57 13 L5 13 Q0 10 0 7 Z" fill="#c27536"/><rect x="0.5" y="0.5" width="5" height="6" fill="#d9904f"/><rect x="55.5" y="0.5" width="5" height="6" fill="#d9904f"/><path d="M4 7.5 L57 7.5" stroke="#e39a58" stroke-width="2" stroke-dasharray="2 2"/><path d="M5 10 L56 10" stroke="#cf8444" stroke-width="1.5" stroke-dasharray="2 2" stroke-dashoffset="1"/><path d="M2 9 Q3 12 5 13 L57 13 Q60 11 61 8" fill="none" stroke="#8a4a26" stroke-width="1.2"/></g><g transform="translate(960,208)" shape-rendering="auto"><path d="M4 12 L9 19 L63 19 L63 5 L59 5 L59 13 Z" fill="#1c1828"/><rect x="6" y="0" width="49" height="6" fill="#35373a" opacity="0.75"/><path d="M0 0 L6 0 L6 5 L55 5 L55 0 L61 0 L61 7 Q61 10 57 13 L5 13 Q0 10 0 7 Z" fill="#c27536"/><rect x="0.5" y="0.5" width="5" height="6" fill="#d9904f"/><rect x="55.5" y="0.5" width="5" height="6" fill="#d9904f"/><path d="M4 7.5 L57 7.5" stroke="#e39a58" stroke-width="2" stroke-dasharray="2 2"/><path d="M5 10 L56 10" stroke="#cf8444" stroke-width="1.5" stroke-dasharray="2 2" stroke-dashoffset="1"/><path d="M2 9 Q3 12 5 13 L57 13 Q60 11 61 8" fill="none" stroke="#8a4a26" stroke-width="1.2"/></g><g transform="translate(960,240)" shape-rendering="auto"><path d="M4 12 L9 19 L63 19 L63 5 L59 5 L59 13 Z" fill="#1c1828"/><rect x="6" y="0" width="49" height="6" fill="#35373a" opacity="0.75"/><path d="M0 0 L6 0 L6 5 L55 5 L55 0 L61 0 L61 7 Q61 10 57 13 L5 13 Q0 10 0 7 Z" fill="#c27536"/><rect x="0.5" y="0.5" width="5" height="6" fill="#d9904f"/><rect x="55.5" y="0.5" width="5" height="6" fill="#d9904f"/><path d="M4 7.5 L57 7.5" stroke="#e39a58" stroke-width="2" stroke-dasharray="2 2"/><path d="M5 10 L56 10" stroke="#cf8444" stroke-width="1.5" stroke-dasharray="2 2" stroke-dashoffset="1"/><path d="M2 9 Q3 12 5 13 L57 13 Q60 11 61 8" fill="none" stroke="#8a4a26" stroke-width="1.2"/></g><g transform="translate(960,272)" shape-rendering="auto"><path d="M4 12 L9 19 L63 19 L63 5 L59 5 L59 13 Z" fill="#1c1828"/><rect x="6" y="0" width="49" height="6" fill="#35373a" opacity="0.75"/><path d="M0 0 L6 0 L6 5 L55 5 L55 0 L61 0 L61 7 Q61 10 57 13 L5 13 Q0 10 0 7 Z" fill="#c27536"/><rect x="0.5" y="0.5" width="5" height="6" fill="#d9904f"/><rect x="55.5" y="0.5" width="5" height="6" fill="#d9904f"/><path d="M4 7.5 L57 7.5" stroke="#e39a58" stroke-width="2" stroke-dasharray="2 2"/><path d="M5 10 L56 10" stroke="#cf8444" stroke-width="1.5" stroke-dasharray="2 2" stroke-dashoffset="1"/><path d="M2 9 Q3 12 5 13 L57 13 Q60 11 61 8" fill="none" stroke="#8a4a26" stroke-width="1.2"/></g><g transform="translate(960,304)" shape-rendering="auto"><path d="M4 12 L9 19 L63 19 L63 5 L59 5 L59 13 Z" fill="#1c1828"/><rect x="6" y="0" width="49" height="6" fill="#35373a" opacity="0.75"/><path d="M0 0 L6 0 L6 5 L55 5 L55 0 L61 0 L61 7 Q61 10 57 13 L5 13 Q0 10 0 7 Z" fill="#c27536"/><rect x="0.5" y="0.5" width="5" height="6" fill="#d9904f"/><rect x="55.5" y="0.5" width="5" height="6" fill="#d9904f"/><path d="M4 7.5 L57 7.5" stroke="#e39a58" stroke-width="2" stroke-dasharray="2 2"/><path d="M5 10 L56 10" stroke="#cf8444" stroke-width="1.5" stroke-dasharray="2 2" stroke-dashoffset="1"/><path d="M2 9 Q3 12 5 13 L57 13 Q60 11 61 8" fill="none" stroke="#8a4a26" stroke-width="1.2"/></g><g transform="translate(960,336)" shape-rendering="auto"><path d="M4 12 L9 19 L63 19 L63 5 L59 5 L59 13 Z" fill="#1c1828"/><rect x="6" y="0" width="49" height="6" fill="#35373a" opacity="0.75"/><path d="M0 0 L6 0 L6 5 L55 5 L55 0 L61 0 L61 7 Q61 10 57 13 L5 13 Q0 10 0 7 Z" fill="#c27536"/><rect x="0.5" y="0.5" width="5" height="6" fill="#d9904f"/><rect x="55.5" y="0.5" width="5" height="6" fill="#d9904f"/><path d="M4 7.5 L57 7.5" stroke="#e39a58" stroke-width="2" stroke-dasharray="2 2"/><path d="M5 10 L56 10" stroke="#cf8444" stroke-width="1.5" stroke-dasharray="2 2" stroke-dashoffset="1"/><path d="M2 9 Q3 12 5 13 L57 13 Q60 11 61 8" fill="none" stroke="#8a4a26" stroke-width="1.2"/></g><g transform="translate(960,368)" shape-rendering="auto"><path d="M4 12 L9 19 L63 19 L63 5 L59 5 L59 13 Z" fill="#1c1828"/><rect x="6" y="0" width="49" height="6" fill="#35373a" opacity="0.75"/><path d="M0 0 L6 0 L6 5 L55 5 L55 0 L61 0 L61 7 Q61 10 57 13 L5 13 Q0 10 0 7 Z" fill="#c27536"/><rect x="0.5" y="0.5" width="5" height="6" fill="#d9904f"/><rect x="55.5" y="0.5" width="5" height="6" fill="#d9904f"/><path d="M4 7.5 L57 7.5" stroke="#e39a58" stroke-width="2" stroke-dasharray="2 2"/><path d="M5 10 L56 10" stroke="#cf8444" stroke-width="1.5" stroke-dasharray="2 2" stroke-dashoffset="1"/><path d="M2 9 Q3 12 5 13 L57 13 Q60 11 61 8" fill="none" stroke="#8a4a26" stroke-width="1.2"/></g><g transform="translate(960,400)" shape-rendering="auto"><path d="M4 12 L9 19 L63 19 L63 5 L59 5 L59 13 Z" fill="#1c1828"/><rect x="6" y="0" width="49" height="6" fill="#35373a" opacity="0.75"/><path d="M0 0 L6 0 L6 5 L55 5 L55 0 L61 0 L61 7 Q61 10 57 13 L5 13 Q0 10 0 7 Z" fill="#c27536"/><rect x="0.5" y="0.5" width="5" height="6" fill="#d9904f"/><rect x="55.5" y="0.5" width="5" height="6" fill="#d9904f"/><path d="M4 7.5 L57 7.5" stroke="#e39a58" stroke-width="2" stroke-dasharray="2 2"/><path d="M5 10 L56 10" stroke="#cf8444" stroke-width="1.5" stroke-dasharray="2 2" stroke-dashoffset="1"/><path d="M2 9 Q3 12 5 13 L57 13 Q60 11 61 8" fill="none" stroke="#8a4a26" stroke-width="1.2"/></g><g transform="translate(960,432)" shape-rendering="auto"><path d="M4 12 L9 19 L63 19 L63 5 L59 5 L59 13 Z" fill="#1c1828"/><rect x="6" y="0" width="49" height="6" fill="#35373a" opacity="0.75"/><path d="M0 0 L6 0 L6 5 L55 5 L55 0 L61 0 L61 7 Q61 10 57 13 L5 13 Q0 10 0 7 Z" fill="#c27536"/><rect x="0.5" y="0.5" width="5" height="6" fill="#d9904f"/><rect x="55.5" y="0.5" width="5" height="6" fill="#d9904f"/><path d="M4 7.5 L57 7.5" stroke="#e39a58" stroke-width="2" stroke-dasharray="2 2"/><path d="M5 10 L56 10" stroke="#cf8444" stroke-width="1.5" stroke-dasharray="2 2" stroke-dashoffset="1"/><path d="M2 9 Q3 12 5 13 L57 13 Q60 11 61 8" fill="none" stroke="#8a4a26" stroke-width="1.2"/></g><g transform="translate(1024,208)"><rect width="64" height="64" fill="#3b1a2c"/><rect x="2" y="2" width="60" height="60" fill="#c2703e"/><rect x="2" y="6" width="3" height="56" fill="#8a4e50" opacity="0.8"/><rect x="2" y="58" width="60" height="4" fill="#7a4456" opacity="0.8"/><rect x="58" y="2" width="4" height="60" fill="#7a4456" opacity="0.8"/><g fill="#74405e"><rect x="46" y="2" width="6" height="48"/><rect x="14" y="43" width="38" height="7"/><rect x="14" y="16" width="6" height="34"/><rect x="14" y="16" width="22" height="6"/><rect x="28" y="16" width="8" height="18"/></g><g fill="#3b1a2c"><rect x="44" y="2" width="2" height="41"/><rect x="20" y="41" width="26" height="2"/><rect x="12" y="14" width="2" height="36"/><rect x="12" y="14" width="24" height="2"/><rect x="28" y="22" width="2" height="12"/></g><g fill="#eba568"><rect x="6" y="2" width="38" height="4"/><rect x="52" y="2" width="2" height="49"/><rect x="12" y="49.5" width="42" height="2"/><rect x="36" y="14" width="2" height="21"/><rect x="28" y="34" width="10" height="1.5"/><rect x="20" y="22" width="2" height="18"/><rect x="20" y="22" width="8" height="2"/></g></g><g transform="translate(1088,208)" shape-rendering="auto"><rect width="64" height="64" fill="#3b1a2c"/><path d="M2 2 L62 2 L32 34 Z" fill="#c2703e"/><path d="M2 2 L32 34 L2 62 Z" fill="#7e4866"/><path d="M62 2 L32 34 L62 62 Z" fill="#6c3a58"/><path d="M2 62 L32 34 L62 62 Z" fill="#4c2540"/><path d="M12 6 L52 6 L32 27 Z" fill="#cc7a44" opacity="0.6"/><rect x="2" y="2" width="60" height="4" fill="#eba568"/><rect x="59" y="2" width="3" height="60" fill="#3b1a2c"/></g><g transform="translate(1152,208)" shape-rendering="auto"><rect width="64" height="64" fill="#3b1a2c"/><path d="M2 2 L62 2 L32 34 Z" fill="#c2703e"/><path d="M2 2 L32 34 L2 62 Z" fill="#7e4866"/><path d="M62 2 L32 34 L62 62 Z" fill="#6c3a58"/><path d="M2 62 L32 34 L62 62 Z" fill="#4c2540"/><path d="M12 6 L52 6 L32 27 Z" fill="#cc7a44" opacity="0.6"/><rect x="2" y="2" width="60" height="4" fill="#eba568"/><rect x="59" y="2" width="3" height="60" fill="#3b1a2c"/></g><g transform="translate(1088,144)" fill="none" shape-rendering="auto" stroke-linejoin="round" stroke-linecap="round"><path d="M3 48.5 L54 48.5" stroke="#eadccb" stroke-width="1.6"/><path d="M21.5 1 L16 10 L16 14" stroke="#e6ecee" stroke-width="1.3"/><path d="M36 1 L36 12" stroke="#e6ecee" stroke-width="1.2"/><path d="M50.5 1.5 L42 13" stroke="#e6ecee" stroke-width="1.3"/><path d="M53 6 L48.5 14" stroke="#e6ecee" stroke-width="1.2"/><path d="M19.4 0.5 L13.7 11 L13.7 14.4" stroke="#3a3b44" stroke-width="2.4"/><path d="M34 0.5 L33.6 14 L32.6 19.6 L24 30 L25 40.4 L20.4 49 L19.4 55 L22 60" stroke="#3a3b44" stroke-width="2.6"/><path d="M48.7 0.7 L39 13 L33.6 15.5" stroke="#3a3b44" stroke-width="2.4"/><path d="M50.6 5.5 L46 14" stroke="#3a3b44" stroke-width="2"/><path d="M16 16 L8 27 M11 20.6 L16 24" stroke="#3a3b44" stroke-width="1.2"/><path d="M17 34.7 L12.3 47 L12.3 53" stroke="#3a3b44" stroke-width="2"/><path d="M6 36.6 L4.8 42.3 L7.6 43" stroke="#3a3b44" stroke-width="1.2"/><path d="M3.3 49 L1.5 57.4 L7.1 60.3" stroke="#3a3b44" stroke-width="2.2"/><path d="M34.5 56.5 L51.5 50.8" stroke="#3a3b44" stroke-width="2.2"/><ellipse cx="25" cy="61" rx="10" ry="6" fill="#3a3b44" stroke="none"/><ellipse cx="25" cy="62.5" rx="4.5" ry="3" fill="#0b0b10" stroke="none"/></g><g transform="translate(1152,144)" fill="none" shape-rendering="auto" stroke-linejoin="round" stroke-linecap="round"><path d="M3 48.5 L54 48.5" stroke="#eadccb" stroke-width="1.6"/><path d="M21.5 1 L16 10 L16 14" stroke="#e6ecee" stroke-width="1.3"/><path d="M36 1 L36 12" stroke="#e6ecee" stroke-width="1.2"/><path d="M50.5 1.5 L42 13" stroke="#e6ecee" stroke-width="1.3"/><path d="M53 6 L48.5 14" stroke="#e6ecee" stroke-width="1.2"/><path d="M19.4 0.5 L13.7 11 L13.7 14.4" stroke="#3a3b44" stroke-width="2.4"/><path d="M34 0.5 L33.6 14 L32.6 19.6 L24 30 L25 40.4 L20.4 49 L19.4 55 L22 60" stroke="#3a3b44" stroke-width="2.6"/><path d="M48.7 0.7 L39 13 L33.6 15.5" stroke="#3a3b44" stroke-width="2.4"/><path d="M50.6 5.5 L46 14" stroke="#3a3b44" stroke-width="2"/><path d="M16 16 L8 27 M11 20.6 L16 24" stroke="#3a3b44" stroke-width="1.2"/><path d="M17 34.7 L12.3 47 L12.3 53" stroke="#3a3b44" stroke-width="2"/><path d="M6 36.6 L4.8 42.3 L7.6 43" stroke="#3a3b44" stroke-width="1.2"/><path d="M3.3 49 L1.5 57.4 L7.1 60.3" stroke="#3a3b44" stroke-width="2.2"/><path d="M34.5 56.5 L51.5 50.8" stroke="#3a3b44" stroke-width="2.2"/><ellipse cx="25" cy="61" rx="10" ry="6" fill="#3a3b44" stroke="none"/><ellipse cx="25" cy="62.5" rx="4.5" ry="3" fill="#0b0b10" stroke="none"/></g><g transform="translate(192,656)" fill="none" shape-rendering="auto" stroke-linejoin="round" stroke-linecap="round"><path d="M3 48.5 L54 48.5" stroke="#eadccb" stroke-width="1.6"/><path d="M21.5 1 L16 10 L16 14" stroke="#e6ecee" stroke-width="1.3"/><path d="M36 1 L36 12" stroke="#e6ecee" stroke-width="1.2"/><path d="M50.5 1.5 L42 13" stroke="#e6ecee" stroke-width="1.3"/><path d="M53 6 L48.5 14" stroke="#e6ecee" stroke-width="1.2"/><path d="M19.4 0.5 L13.7 11 L13.7 14.4" stroke="#3a3b44" stroke-width="2.4"/><path d="M34 0.5 L33.6 14 L32.6 19.6 L24 30 L25 40.4 L20.4 49 L19.4 55 L22 60" stroke="#3a3b44" stroke-width="2.6"/><path d="M48.7 0.7 L39 13 L33.6 15.5" stroke="#3a3b44" stroke-width="2.4"/><path d="M50.6 5.5 L46 14" stroke="#3a3b44" stroke-width="2"/><path d="M16 16 L8 27 M11 20.6 L16 24" stroke="#3a3b44" stroke-width="1.2"/><path d="M17 34.7 L12.3 47 L12.3 53" stroke="#3a3b44" stroke-width="2"/><path d="M6 36.6 L4.8 42.3 L7.6 43" stroke="#3a3b44" stroke-width="1.2"/><path d="M3.3 49 L1.5 57.4 L7.1 60.3" stroke="#3a3b44" stroke-width="2.2"/><path d="M34.5 56.5 L51.5 50.8" stroke="#3a3b44" stroke-width="2.2"/><ellipse cx="25" cy="61" rx="10" ry="6" fill="#3a3b44" stroke="none"/><ellipse cx="25" cy="62.5" rx="4.5" ry="3" fill="#0b0b10" stroke="none"/></g><g transform="translate(320,656)" fill="none" shape-rendering="auto" stroke-linejoin="round" stroke-linecap="round"><path d="M3 48.5 L54 48.5" stroke="#eadccb" stroke-width="1.6"/><path d="M21.5 1 L16 10 L16 14" stroke="#e6ecee" stroke-width="1.3"/><path d="M36 1 L36 12" stroke="#e6ecee" stroke-width="1.2"/><path d="M50.5 1.5 L42 13" stroke="#e6ecee" stroke-width="1.3"/><path d="M53 6 L48.5 14" stroke="#e6ecee" stroke-width="1.2"/><path d="M19.4 0.5 L13.7 11 L13.7 14.4" stroke="#3a3b44" stroke-width="2.4"/><path d="M34 0.5 L33.6 14 L32.6 19.6 L24 30 L25 40.4 L20.4 49 L19.4 55 L22 60" stroke="#3a3b44" stroke-width="2.6"/><path d="M48.7 0.7 L39 13 L33.6 15.5" stroke="#3a3b44" stroke-width="2.4"/><path d="M50.6 5.5 L46 14" stroke="#3a3b44" stroke-width="2"/><path d="M16 16 L8 27 M11 20.6 L16 24" stroke="#3a3b44" stroke-width="1.2"/><path d="M17 34.7 L12.3 47 L12.3 53" stroke="#3a3b44" stroke-width="2"/><path d="M6 36.6 L4.8 42.3 L7.6 43" stroke="#3a3b44" stroke-width="1.2"/><path d="M3.3 49 L1.5 57.4 L7.1 60.3" stroke="#3a3b44" stroke-width="2.2"/><path d="M34.5 56.5 L51.5 50.8" stroke="#3a3b44" stroke-width="2.2"/><ellipse cx="25" cy="61" rx="10" ry="6" fill="#3a3b44" stroke="none"/><ellipse cx="25" cy="62.5" rx="4.5" ry="3" fill="#0b0b10" stroke="none"/></g><g transform="translate(448,656)" fill="none" shape-rendering="auto" stroke-linejoin="round" stroke-linecap="round"><path d="M3 48.5 L54 48.5" stroke="#eadccb" stroke-width="1.6"/><path d="M21.5 1 L16 10 L16 14" stroke="#e6ecee" stroke-width="1.3"/><path d="M36 1 L36 12" stroke="#e6ecee" stroke-width="1.2"/><path d="M50.5 1.5 L42 13" stroke="#e6ecee" stroke-width="1.3"/><path d="M53 6 L48.5 14" stroke="#e6ecee" stroke-width="1.2"/><path d="M19.4 0.5 L13.7 11 L13.7 14.4" stroke="#3a3b44" stroke-width="2.4"/><path d="M34 0.5 L33.6 14 L32.6 19.6 L24 30 L25 40.4 L20.4 49 L19.4 55 L22 60" stroke="#3a3b44" stroke-width="2.6"/><path d="M48.7 0.7 L39 13 L33.6 15.5" stroke="#3a3b44" stroke-width="2.4"/><path d="M50.6 5.5 L46 14" stroke="#3a3b44" stroke-width="2"/><path d="M16 16 L8 27 M11 20.6 L16 24" stroke="#3a3b44" stroke-width="1.2"/><path d="M17 34.7 L12.3 47 L12.3 53" stroke="#3a3b44" stroke-width="2"/><path d="M6 36.6 L4.8 42.3 L7.6 43" stroke="#3a3b44" stroke-width="1.2"/><path d="M3.3 49 L1.5 57.4 L7.1 60.3" stroke="#3a3b44" stroke-width="2.2"/><path d="M34.5 56.5 L51.5 50.8" stroke="#3a3b44" stroke-width="2.2"/><ellipse cx="25" cy="61" rx="10" ry="6" fill="#3a3b44" stroke="none"/><ellipse cx="25" cy="62.5" rx="4.5" ry="3" fill="#0b0b10" stroke="none"/></g><g transform="translate(576,656)" fill="none" shape-rendering="auto" stroke-linejoin="round" stroke-linecap="round"><path d="M3 48.5 L54 48.5" stroke="#eadccb" stroke-width="1.6"/><path d="M21.5 1 L16 10 L16 14" stroke="#e6ecee" stroke-width="1.3"/><path d="M36 1 L36 12" stroke="#e6ecee" stroke-width="1.2"/><path d="M50.5 1.5 L42 13" stroke="#e6ecee" stroke-width="1.3"/><path d="M53 6 L48.5 14" stroke="#e6ecee" stroke-width="1.2"/><path d="M19.4 0.5 L13.7 11 L13.7 14.4" stroke="#3a3b44" stroke-width="2.4"/><path d="M34 0.5 L33.6 14 L32.6 19.6 L24 30 L25 40.4 L20.4 49 L19.4 55 L22 60" stroke="#3a3b44" stroke-width="2.6"/><path d="M48.7 0.7 L39 13 L33.6 15.5" stroke="#3a3b44" stroke-width="2.4"/><path d="M50.6 5.5 L46 14" stroke="#3a3b44" stroke-width="2"/><path d="M16 16 L8 27 M11 20.6 L16 24" stroke="#3a3b44" stroke-width="1.2"/><path d="M17 34.7 L12.3 47 L12.3 53" stroke="#3a3b44" stroke-width="2"/><path d="M6 36.6 L4.8 42.3 L7.6 43" stroke="#3a3b44" stroke-width="1.2"/><path d="M3.3 49 L1.5 57.4 L7.1 60.3" stroke="#3a3b44" stroke-width="2.2"/><path d="M34.5 56.5 L51.5 50.8" stroke="#3a3b44" stroke-width="2.2"/><ellipse cx="25" cy="61" rx="10" ry="6" fill="#3a3b44" stroke="none"/><ellipse cx="25" cy="62.5" rx="4.5" ry="3" fill="#0b0b10" stroke="none"/></g><g transform="translate(704,656)" fill="none" shape-rendering="auto" stroke-linejoin="round" stroke-linecap="round"><path d="M3 48.5 L54 48.5" stroke="#eadccb" stroke-width="1.6"/><path d="M21.5 1 L16 10 L16 14" stroke="#e6ecee" stroke-width="1.3"/><path d="M36 1 L36 12" stroke="#e6ecee" stroke-width="1.2"/><path d="M50.5 1.5 L42 13" stroke="#e6ecee" stroke-width="1.3"/><path d="M53 6 L48.5 14" stroke="#e6ecee" stroke-width="1.2"/><path d="M19.4 0.5 L13.7 11 L13.7 14.4" stroke="#3a3b44" stroke-width="2.4"/><path d="M34 0.5 L33.6 14 L32.6 19.6 L24 30 L25 40.4 L20.4 49 L19.4 55 L22 60" stroke="#3a3b44" stroke-width="2.6"/><path d="M48.7 0.7 L39 13 L33.6 15.5" stroke="#3a3b44" stroke-width="2.4"/><path d="M50.6 5.5 L46 14" stroke="#3a3b44" stroke-width="2"/><path d="M16 16 L8 27 M11 20.6 L16 24" stroke="#3a3b44" stroke-width="1.2"/><path d="M17 34.7 L12.3 47 L12.3 53" stroke="#3a3b44" stroke-width="2"/><path d="M6 36.6 L4.8 42.3 L7.6 43" stroke="#3a3b44" stroke-width="1.2"/><path d="M3.3 49 L1.5 57.4 L7.1 60.3" stroke="#3a3b44" stroke-width="2.2"/><path d="M34.5 56.5 L51.5 50.8" stroke="#3a3b44" stroke-width="2.2"/><ellipse cx="25" cy="61" rx="10" ry="6" fill="#3a3b44" stroke="none"/><ellipse cx="25" cy="62.5" rx="4.5" ry="3" fill="#0b0b10" stroke="none"/></g><g transform="translate(832,656)" fill="none" shape-rendering="auto" stroke-linejoin="round" stroke-linecap="round"><path d="M3 48.5 L54 48.5" stroke="#eadccb" stroke-width="1.6"/><path d="M21.5 1 L16 10 L16 14" stroke="#e6ecee" stroke-width="1.3"/><path d="M36 1 L36 12" stroke="#e6ecee" stroke-width="1.2"/><path d="M50.5 1.5 L42 13" stroke="#e6ecee" stroke-width="1.3"/><path d="M53 6 L48.5 14" stroke="#e6ecee" stroke-width="1.2"/><path d="M19.4 0.5 L13.7 11 L13.7 14.4" stroke="#3a3b44" stroke-width="2.4"/><path d="M34 0.5 L33.6 14 L32.6 19.6 L24 30 L25 40.4 L20.4 49 L19.4 55 L22 60" stroke="#3a3b44" stroke-width="2.6"/><path d="M48.7 0.7 L39 13 L33.6 15.5" stroke="#3a3b44" stroke-width="2.4"/><path d="M50.6 5.5 L46 14" stroke="#3a3b44" stroke-width="2"/><path d="M16 16 L8 27 M11 20.6 L16 24" stroke="#3a3b44" stroke-width="1.2"/><path d="M17 34.7 L12.3 47 L12.3 53" stroke="#3a3b44" stroke-width="2"/><path d="M6 36.6 L4.8 42.3 L7.6 43" stroke="#3a3b44" stroke-width="1.2"/><path d="M3.3 49 L1.5 57.4 L7.1 60.3" stroke="#3a3b44" stroke-width="2.2"/><path d="M34.5 56.5 L51.5 50.8" stroke="#3a3b44" stroke-width="2.2"/><ellipse cx="25" cy="61" rx="10" ry="6" fill="#3a3b44" stroke="none"/><ellipse cx="25" cy="62.5" rx="4.5" ry="3" fill="#0b0b10" stroke="none"/></g><g transform="translate(960,656)" fill="none" shape-rendering="auto" stroke-linejoin="round" stroke-linecap="round"><path d="M3 48.5 L54 48.5" stroke="#eadccb" stroke-width="1.6"/><path d="M21.5 1 L16 10 L16 14" stroke="#e6ecee" stroke-width="1.3"/><path d="M36 1 L36 12" stroke="#e6ecee" stroke-width="1.2"/><path d="M50.5 1.5 L42 13" stroke="#e6ecee" stroke-width="1.3"/><path d="M53 6 L48.5 14" stroke="#e6ecee" stroke-width="1.2"/><path d="M19.4 0.5 L13.7 11 L13.7 14.4" stroke="#3a3b44" stroke-width="2.4"/><path d="M34 0.5 L33.6 14 L32.6 19.6 L24 30 L25 40.4 L20.4 49 L19.4 55 L22 60" stroke="#3a3b44" stroke-width="2.6"/><path d="M48.7 0.7 L39 13 L33.6 15.5" stroke="#3a3b44" stroke-width="2.4"/><path d="M50.6 5.5 L46 14" stroke="#3a3b44" stroke-width="2"/><path d="M16 16 L8 27 M11 20.6 L16 24" stroke="#3a3b44" stroke-width="1.2"/><path d="M17 34.7 L12.3 47 L12.3 53" stroke="#3a3b44" stroke-width="2"/><path d="M6 36.6 L4.8 42.3 L7.6 43" stroke="#3a3b44" stroke-width="1.2"/><path d="M3.3 49 L1.5 57.4 L7.1 60.3" stroke="#3a3b44" stroke-width="2.2"/><path d="M34.5 56.5 L51.5 50.8" stroke="#3a3b44" stroke-width="2.2"/><ellipse cx="25" cy="61" rx="10" ry="6" fill="#3a3b44" stroke="none"/><ellipse cx="25" cy="62.5" rx="4.5" ry="3" fill="#0b0b10" stroke="none"/></g><g transform="translate(1088,656)" fill="none" shape-rendering="auto" stroke-linejoin="round" stroke-linecap="round"><path d="M3 48.5 L54 48.5" stroke="#eadccb" stroke-width="1.6"/><path d="M21.5 1 L16 10 L16 14" stroke="#e6ecee" stroke-width="1.3"/><path d="M36 1 L36 12" stroke="#e6ecee" stroke-width="1.2"/><path d="M50.5 1.5 L42 13" stroke="#e6ecee" stroke-width="1.3"/><path d="M53 6 L48.5 14" stroke="#e6ecee" stroke-width="1.2"/><path d="M19.4 0.5 L13.7 11 L13.7 14.4" stroke="#3a3b44" stroke-width="2.4"/><path d="M34 0.5 L33.6 14 L32.6 19.6 L24 30 L25 40.4 L20.4 49 L19.4 55 L22 60" stroke="#3a3b44" stroke-width="2.6"/><path d="M48.7 0.7 L39 13 L33.6 15.5" stroke="#3a3b44" stroke-width="2.4"/><path d="M50.6 5.5 L46 14" stroke="#3a3b44" stroke-width="2"/><path d="M16 16 L8 27 M11 20.6 L16 24" stroke="#3a3b44" stroke-width="1.2"/><path d="M17 34.7 L12.3 47 L12.3 53" stroke="#3a3b44" stroke-width="2"/><path d="M6 36.6 L4.8 42.3 L7.6 43" stroke="#3a3b44" stroke-width="1.2"/><path d="M3.3 49 L1.5 57.4 L7.1 60.3" stroke="#3a3b44" stroke-width="2.2"/><path d="M34.5 56.5 L51.5 50.8" stroke="#3a3b44" stroke-width="2.2"/><ellipse cx="25" cy="61" rx="10" ry="6" fill="#3a3b44" stroke="none"/><ellipse cx="25" cy="62.5" rx="4.5" ry="3" fill="#0b0b10" stroke="none"/></g><g shape-rendering="auto"><rect x="623" y="159" width="16.5" height="18" rx="5" fill="#ebe7da"/><path d="M630 159.5 L623.5 167 M636 160 L625 172 M639 166 L631 176" stroke="#8f8c80" stroke-width="1.3"/><circle cx="635" cy="171" r="3.3" fill="#e6b4ac"/><rect x="634" y="169" width="3" height="3.5" fill="#4a1a1c"/><rect x="624" y="177" width="9" height="29" fill="#ebe7da"/><path d="M624 181 L633 180 M624 185 L633 184 M624 189 L633 188 M624 193 L633 192 M625 197 L632 199 M625 201 L632 203" stroke="#8f8c80" stroke-width="1.2"/><rect x="632" y="180" width="5" height="5" fill="#ebe7da"/><rect x="636" y="181" width="4" height="6" fill="#ebe7da"/><path d="M637 182 L637 186" stroke="#8f8c80" stroke-width="1"/></g><g shape-rendering="auto"><rect x="218" y="336" width="12" height="9" fill="#dba898"/><rect x="225" y="336" width="5" height="9" fill="#9c5a3e"/><rect x="220" y="338" width="1.5" height="1.5" fill="#7a3a30"/><rect x="222" y="341" width="1.5" height="1.5" fill="#7a3a30"/><path d="M215 345 L233 345 L233 349 L228 353 L228 360 L233 364 L233 367 L214 367 L214 364 L219 360 L219 353 L215 349 Z" fill="#93a7b2"/><path d="M224 345 L233 345 L233 349 L228 353 L228 360 L233 364 L233 367 L224 367 Z" fill="#7f8e8a"/><circle cx="223" cy="383" r="17.5" fill="#9a4a2c"/><circle cx="219.5" cy="379.5" r="14" fill="#d8463e"/><circle cx="217" cy="377" r="3" fill="#74cdd0"/></g><g><rect x="246" y="376" width="14" height="2" fill="#1e1420"/><rect x="243" y="378" width="20" height="3" fill="#1e1420"/><rect x="245" y="378" width="15" height="3" fill="#7a4a3c"/><rect x="241" y="381" width="24" height="7" fill="#1e1420"/><rect x="243" y="381" width="20" height="6" fill="#8a5a40"/><rect x="244" y="383" width="12" height="3" fill="#c08850"/><rect x="263" y="384" width="4" height="4" fill="#1e1420"/><rect x="266" y="387" width="5" height="4" fill="#1e1420"/><rect x="240" y="388" width="16" height="12" fill="#2a2060"/><rect x="243" y="391" width="2.5" height="8" fill="#f0c8a8"/><rect x="248" y="389" width="2.5" height="10" fill="#e8a070"/><rect x="253" y="387" width="10" height="12" fill="#5c70d0"/><rect x="258" y="390" width="8" height="5" fill="#e0b080"/><rect x="262" y="391" width="20" height="8" fill="#e8a47c"/><rect x="270" y="391" width="30" height="2" fill="#1e1420"/><rect x="280" y="396.5" width="20" height="2.5" fill="#e8eef4"/></g><g shape-rendering="auto"><path d="M348 421 C339 418 337 432 343 439" fill="none" stroke="#c98a4a" stroke-width="1.8"/><path d="M356 421 C365 418 367 432 361 439" fill="none" stroke="#b06a30" stroke-width="1.8"/><path d="M347 419 L357 419 L356.5 432 C366 437 366 452 360 459 L356 464 L348 464 L344 459 C338 452 338 437 347.5 432 Z" fill="#d27b2f"/><path d="M352 419 L357 419 L356.5 432 C366 437 366 452 360 459 L356 464 L352 464 Z" fill="#b9652a" opacity="0.6"/><path d="M343 454 C346 460 348 464 352 464 L356 464 C358 462 360 459 361 455 Z" fill="#9a4a28" opacity="0.75"/><rect x="344.5" y="417" width="15" height="2.5" rx="1" fill="#e8b278"/><path d="M345.5 440 L347.5 450" stroke="#f0a848" stroke-width="2" stroke-linecap="round"/></g><g shape-rendering="auto"><rect x="794" y="407" width="13" height="9" fill="#d8a898"/><rect x="800" y="407" width="7" height="9" fill="#9c5a3e"/><rect x="796" y="409" width="1.5" height="1.5" fill="#7a3a30"/><rect x="798" y="412" width="1.5" height="1.5" fill="#7a3a30"/><path d="M792 415 L808 415 L808 423 Q820 425 821 433 L779 433 Q780 425 792 423 Z" fill="#8e9c9c" opacity="0.75"/><path d="M800 415 L808 415 L808 423 Q820 425 821 433 L800 433 Z" fill="#6f7a74" opacity="0.6"/><path d="M779 432 L821 432 L821 461 Q821 465 817 465 L783 465 Q779 465 779 461 Z" fill="#4a66c6"/><path d="M806 432 L821 432 L821 461 Q821 465 817 465 L806 465 Z" fill="#39499a"/><rect x="784" y="428" width="8" height="7" rx="2" fill="#a8dce0"/><rect x="790.5" y="427" width="20" height="19" rx="7" fill="#e8e2d4"/><path d="M792 434 L809 431 M791 443 L810 441" stroke="#9c978a" stroke-width="1.2" fill="none"/><rect x="793" y="435" width="15" height="7" fill="#eed2c8"/><rect x="794" y="436" width="4" height="4" fill="#5e2e24"/><rect x="803" y="436" width="4" height="4" fill="#5e2e24"/><rect x="796" y="429.5" width="8" height="3" fill="#a8cce0"/><rect x="793" y="446" width="15" height="18" fill="#e8e2d4"/><path d="M793 449 L808 453 M808 449 L793 454 M793 457 L808 461 M808 457 L793 462" stroke="#a59e86" stroke-width="1.2"/><path d="M800 446 L800 464" stroke="#a59e86" stroke-width="0.8"/></g><g shape-rendering="auto"><rect x="144.5" y="32.5" width="239" height="31" fill="#000" stroke="#f2f2f2" stroke-width="1"/><text x="159.5" y="53" textLength="208" lengthAdjust="spacingAndGlyphs" font-family="Liberation Mono" font-weight="bold" font-size="16.5" fill="#fafafa" stroke="#fafafa" stroke-width="0.45">WASD/arrows = move &amp; jump</text><rect x="528.5" y="80.5" width="159" height="31" fill="#000" stroke="#f2f2f2" stroke-width="1"/><text x="539.7" y="101" textLength="136.4" lengthAdjust="spacingAndGlyphs" font-family="Liberation Mono" font-weight="bold" font-size="16.5" fill="#fafafa" stroke="#fafafa" stroke-width="0.45">space/Z/M = attack</text><rect x="784.5" y="144.5" width="159" height="31" fill="#000" stroke="#f2f2f2" stroke-width="1"/><text x="806.7" y="165" textLength="114.2" lengthAdjust="spacingAndGlyphs" font-family="Liberation Mono" font-weight="bold" font-size="16.5" fill="#fafafa" stroke="#fafafa" stroke-width="0.45">up/down = climb</text><rect x="208.5" y="288.5" width="271" height="31" fill="#000" stroke="#f2f2f2" stroke-width="1"/><text x="214" y="309" textLength="261.5" lengthAdjust="spacingAndGlyphs" font-family="Liberation Sans" font-weight="bold" font-size="15.5" fill="#fafafa">Once you die, the mummies will come!</text><rect x="336.5" y="368.5" width="175" height="31" fill="#000" stroke="#f2f2f2" stroke-width="1"/><text x="345.6" y="389" textLength="158.3" lengthAdjust="spacingAndGlyphs" font-family="Liberation Sans" font-weight="bold" font-size="15.5" fill="#fafafa">Get the mummies home</text><rect x="640.5" y="352.5" width="319" height="31" fill="#000" stroke="#f2f2f2" stroke-width="1"/><text x="645.8" y="373" textLength="307.7" lengthAdjust="spacingAndGlyphs" font-family="Liberation Sans" font-weight="bold" font-size="15.5" fill="#fafafa">Leave multiple instructions for the mummies</text><rect x="576.5" y="400.5" width="63" height="31" fill="#000" stroke="#f2f2f2" stroke-width="1"/><text x="588" y="421" textLength="39" lengthAdjust="spacingAndGlyphs" font-family="Liberation Mono" font-weight="bold" font-size="16.5" fill="#fafafa" stroke="#fafafa" stroke-width="0.45">JUMP</text><rect x="640.5" y="432.5" width="63" height="31" fill="#000" stroke="#f2f2f2" stroke-width="1"/><text x="651.8" y="453" textLength="39.4" lengthAdjust="spacingAndGlyphs" font-family="Liberation Mono" font-weight="bold" font-size="16.5" fill="#fafafa" stroke="#fafafa" stroke-width="0.45">JUMP</text><rect x="192.5" y="544.5" width="63" height="31" fill="#000" stroke="#f2f2f2" stroke-width="1"/><text x="201.6" y="565" textLength="45.5" lengthAdjust="spacingAndGlyphs" font-family="Liberation Sans" font-weight="bold" font-size="15.5" fill="#fafafa">1: 1:15</text><rect x="320.5" y="544.5" width="63" height="31" fill="#000" stroke="#f2f2f2" stroke-width="1"/><text x="329.6" y="565" textLength="45.5" lengthAdjust="spacingAndGlyphs" font-family="Liberation Sans" font-weight="bold" font-size="15.5" fill="#fafafa">2: 0:56</text><rect x="448.5" y="544.5" width="63" height="31" fill="#000" stroke="#f2f2f2" stroke-width="1"/><text x="457.6" y="565" textLength="45.5" lengthAdjust="spacingAndGlyphs" font-family="Liberation Sans" font-weight="bold" font-size="15.5" fill="#fafafa">3: 1:09</text><rect x="576.5" y="544.5" width="63" height="31" fill="#000" stroke="#f2f2f2" stroke-width="1"/><text x="585.6" y="565" textLength="45.5" lengthAdjust="spacingAndGlyphs" font-family="Liberation Sans" font-weight="bold" font-size="15.5" fill="#fafafa">4: 0:49</text><rect x="704.5" y="544.5" width="63" height="31" fill="#000" stroke="#f2f2f2" stroke-width="1"/><text x="713.6" y="565" textLength="45.5" lengthAdjust="spacingAndGlyphs" font-family="Liberation Sans" font-weight="bold" font-size="15.5" fill="#fafafa">5: 0:42</text><rect x="832.5" y="544.5" width="63" height="31" fill="#000" stroke="#f2f2f2" stroke-width="1"/><text x="841.6" y="565" textLength="45.5" lengthAdjust="spacingAndGlyphs" font-family="Liberation Sans" font-weight="bold" font-size="15.5" fill="#fafafa">6: 0:53</text><rect x="960.5" y="544.5" width="63" height="31" fill="#000" stroke="#f2f2f2" stroke-width="1"/><text x="969.6" y="565" textLength="45.5" lengthAdjust="spacingAndGlyphs" font-family="Liberation Sans" font-weight="bold" font-size="15.5" fill="#fafafa">7: 1:27</text><rect x="1088.5" y="544.5" width="63" height="31" fill="#000" stroke="#f2f2f2" stroke-width="1"/><text x="1116.4" y="565" textLength="7.5" lengthAdjust="spacingAndGlyphs" font-family="Liberation Sans" font-weight="bold" font-size="15.5" fill="#fafafa">8</text></g></svg>
</body></html>
